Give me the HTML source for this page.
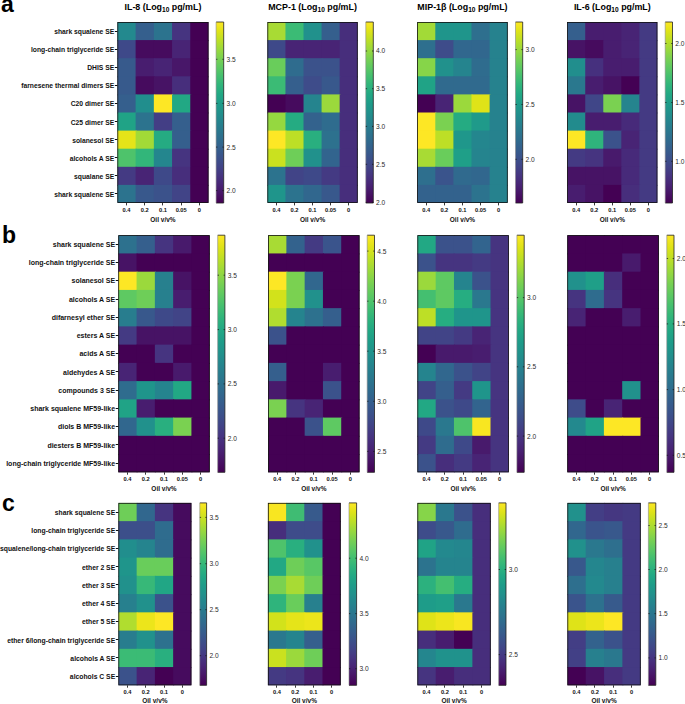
<!DOCTYPE html><html><head><meta charset="utf-8"><style>html,body{margin:0;padding:0;background:#fff;}svg{display:block;}</style></head><body>
<svg width="685" height="704" viewBox="0 0 685 704" font-family='"Liberation Sans", sans-serif'>
<defs><linearGradient id="vg" x1="0" y1="1" x2="0" y2="0">
<stop offset="0" stop-color="#440154"/>
<stop offset="0.05" stop-color="#471365"/>
<stop offset="0.1" stop-color="#482475"/>
<stop offset="0.15" stop-color="#463480"/>
<stop offset="0.2" stop-color="#414487"/>
<stop offset="0.25" stop-color="#3b528b"/>
<stop offset="0.3" stop-color="#355f8d"/>
<stop offset="0.35" stop-color="#2f6c8e"/>
<stop offset="0.4" stop-color="#2a788e"/>
<stop offset="0.45" stop-color="#25848e"/>
<stop offset="0.5" stop-color="#21918c"/>
<stop offset="0.55" stop-color="#1e9c89"/>
<stop offset="0.6" stop-color="#22a884"/>
<stop offset="0.65" stop-color="#2fb47c"/>
<stop offset="0.7" stop-color="#44bf70"/>
<stop offset="0.75" stop-color="#5ec962"/>
<stop offset="0.8" stop-color="#7ad151"/>
<stop offset="0.85" stop-color="#9bd93c"/>
<stop offset="0.9" stop-color="#bddf26"/>
<stop offset="0.95" stop-color="#dfe318"/>
<stop offset="1" stop-color="#fde725"/>
</linearGradient></defs>
<rect x="0" y="0" width="685" height="704" fill="#fff"/>
<text x="1" y="12.3" font-size="23" font-weight="bold" fill="#000">a</text>
<rect x="117.4" y="22" width="19.22" height="19.1" fill="#23898e"/>
<rect x="135.62" y="22" width="19.22" height="19.1" fill="#355f8d"/>
<rect x="153.84" y="22" width="19.22" height="19.1" fill="#2c738e"/>
<rect x="172.06" y="22" width="19.22" height="19.1" fill="#463480"/>
<rect x="190.28" y="22" width="18.22" height="19.1" fill="#440154"/>
<rect x="117.4" y="40.1" width="19.22" height="19.1" fill="#3e4989"/>
<rect x="135.62" y="40.1" width="19.22" height="19.1" fill="#460b5e"/>
<rect x="153.84" y="40.1" width="19.22" height="19.1" fill="#460b5e"/>
<rect x="172.06" y="40.1" width="19.22" height="19.1" fill="#482475"/>
<rect x="190.28" y="40.1" width="18.22" height="19.1" fill="#440154"/>
<rect x="117.4" y="58.2" width="19.22" height="19.1" fill="#375a8c"/>
<rect x="135.62" y="58.2" width="19.22" height="19.1" fill="#481d6f"/>
<rect x="153.84" y="58.2" width="19.22" height="19.1" fill="#482475"/>
<rect x="172.06" y="58.2" width="19.22" height="19.1" fill="#481769"/>
<rect x="190.28" y="58.2" width="18.22" height="19.1" fill="#440154"/>
<rect x="117.4" y="76.3" width="19.22" height="19.1" fill="#375a8c"/>
<rect x="135.62" y="76.3" width="19.22" height="19.1" fill="#460b5e"/>
<rect x="153.84" y="76.3" width="19.22" height="19.1" fill="#471365"/>
<rect x="172.06" y="76.3" width="19.22" height="19.1" fill="#472e7c"/>
<rect x="190.28" y="76.3" width="18.22" height="19.1" fill="#440154"/>
<rect x="117.4" y="94.4" width="19.22" height="19.1" fill="#355f8d"/>
<rect x="135.62" y="94.4" width="19.22" height="19.1" fill="#218e8d"/>
<rect x="153.84" y="94.4" width="19.22" height="19.1" fill="#fde725"/>
<rect x="172.06" y="94.4" width="19.22" height="19.1" fill="#22a884"/>
<rect x="190.28" y="94.4" width="18.22" height="19.1" fill="#440154"/>
<rect x="117.4" y="112.5" width="19.22" height="19.1" fill="#20a386"/>
<rect x="135.62" y="112.5" width="19.22" height="19.1" fill="#2c738e"/>
<rect x="153.84" y="112.5" width="19.22" height="19.1" fill="#433e85"/>
<rect x="172.06" y="112.5" width="19.22" height="19.1" fill="#355f8d"/>
<rect x="190.28" y="112.5" width="18.22" height="19.1" fill="#440154"/>
<rect x="117.4" y="130.6" width="19.22" height="19.1" fill="#e5e419"/>
<rect x="135.62" y="130.6" width="19.22" height="19.1" fill="#a2da37"/>
<rect x="153.84" y="130.6" width="19.22" height="19.1" fill="#25ab82"/>
<rect x="172.06" y="130.6" width="19.22" height="19.1" fill="#355f8d"/>
<rect x="190.28" y="130.6" width="18.22" height="19.1" fill="#440154"/>
<rect x="117.4" y="148.7" width="19.22" height="19.1" fill="#4ec36b"/>
<rect x="135.62" y="148.7" width="19.22" height="19.1" fill="#32b67a"/>
<rect x="153.84" y="148.7" width="19.22" height="19.1" fill="#24868e"/>
<rect x="172.06" y="148.7" width="19.22" height="19.1" fill="#463480"/>
<rect x="190.28" y="148.7" width="18.22" height="19.1" fill="#440154"/>
<rect x="117.4" y="166.8" width="19.22" height="19.1" fill="#443a83"/>
<rect x="135.62" y="166.8" width="19.22" height="19.1" fill="#482475"/>
<rect x="153.84" y="166.8" width="19.22" height="19.1" fill="#3e4989"/>
<rect x="172.06" y="166.8" width="19.22" height="19.1" fill="#472e7c"/>
<rect x="190.28" y="166.8" width="18.22" height="19.1" fill="#440154"/>
<rect x="117.4" y="184.9" width="19.22" height="18.1" fill="#2c738e"/>
<rect x="135.62" y="184.9" width="19.22" height="18.1" fill="#38588c"/>
<rect x="153.84" y="184.9" width="19.22" height="18.1" fill="#3b528b"/>
<rect x="172.06" y="184.9" width="19.22" height="18.1" fill="#414487"/>
<rect x="190.28" y="184.9" width="18.22" height="18.1" fill="#440154"/>
<rect x="117.8" y="22.4" width="90.3" height="180.2" fill="none" stroke="#111" stroke-width="0.8"/>
<line x1="114.8" y1="31.5" x2="117.4" y2="31.5" stroke="#111" stroke-width="1"/>
<text x="114.2" y="34.05" font-size="6.75" font-weight="bold" text-anchor="end" fill="#111">shark squalene SE</text>
<line x1="114.8" y1="49.5" x2="117.4" y2="49.5" stroke="#111" stroke-width="1"/>
<text x="114.2" y="52.15" font-size="6.75" font-weight="bold" text-anchor="end" fill="#111">long-chain triglyceride SE</text>
<line x1="114.8" y1="67.5" x2="117.4" y2="67.5" stroke="#111" stroke-width="1"/>
<text x="114.2" y="70.25" font-size="6.75" font-weight="bold" text-anchor="end" fill="#111">DHIS SE</text>
<line x1="114.8" y1="85.5" x2="117.4" y2="85.5" stroke="#111" stroke-width="1"/>
<text x="114.2" y="88.35" font-size="6.75" font-weight="bold" text-anchor="end" fill="#111">farnesene thermal dimers SE</text>
<line x1="114.8" y1="103.5" x2="117.4" y2="103.5" stroke="#111" stroke-width="1"/>
<text x="114.2" y="106.45" font-size="6.75" font-weight="bold" text-anchor="end" fill="#111">C20 dimer SE</text>
<line x1="114.8" y1="121.5" x2="117.4" y2="121.5" stroke="#111" stroke-width="1"/>
<text x="114.2" y="124.55" font-size="6.75" font-weight="bold" text-anchor="end" fill="#111">C25 dimer SE</text>
<line x1="114.8" y1="139.5" x2="117.4" y2="139.5" stroke="#111" stroke-width="1"/>
<text x="114.2" y="142.65" font-size="6.75" font-weight="bold" text-anchor="end" fill="#111">solanesol SE</text>
<line x1="114.8" y1="157.5" x2="117.4" y2="157.5" stroke="#111" stroke-width="1"/>
<text x="114.2" y="160.75" font-size="6.75" font-weight="bold" text-anchor="end" fill="#111">alcohols A SE</text>
<line x1="114.8" y1="175.5" x2="117.4" y2="175.5" stroke="#111" stroke-width="1"/>
<text x="114.2" y="178.85" font-size="6.75" font-weight="bold" text-anchor="end" fill="#111">squalane SE</text>
<line x1="114.8" y1="193.5" x2="117.4" y2="193.5" stroke="#111" stroke-width="1"/>
<text x="114.2" y="196.95" font-size="6.75" font-weight="bold" text-anchor="end" fill="#111">shark squalene SE</text>
<line x1="126.5" y1="203" x2="126.5" y2="205.4" stroke="#222" stroke-width="0.9"/>
<text x="126.51" y="211.8" font-size="5.7" font-weight="bold" text-anchor="middle" fill="#111">0.4</text>
<line x1="144.5" y1="203" x2="144.5" y2="205.4" stroke="#222" stroke-width="0.9"/>
<text x="144.73" y="211.8" font-size="5.7" font-weight="bold" text-anchor="middle" fill="#111">0.2</text>
<line x1="162.5" y1="203" x2="162.5" y2="205.4" stroke="#222" stroke-width="0.9"/>
<text x="162.95" y="211.8" font-size="5.7" font-weight="bold" text-anchor="middle" fill="#111">0.1</text>
<line x1="181.5" y1="203" x2="181.5" y2="205.4" stroke="#222" stroke-width="0.9"/>
<text x="181.17" y="211.8" font-size="5.7" font-weight="bold" text-anchor="middle" fill="#111">0.05</text>
<line x1="199.5" y1="203" x2="199.5" y2="205.4" stroke="#222" stroke-width="0.9"/>
<text x="199.39" y="211.8" font-size="5.7" font-weight="bold" text-anchor="middle" fill="#111">0</text>
<text x="162.95" y="221.8" font-size="6.5" font-weight="bold" text-anchor="middle" fill="#111">Oil v/v%</text>
<rect x="216.1" y="22" width="7.6" height="181" fill="url(#vg)"/>
<path d="M216.1 22H223.7V203H216.1" fill="none" stroke="#222" stroke-width="0.8"/>
<line x1="216.1" y1="22" x2="216.1" y2="203" stroke="#888" stroke-width="0.6"/>
<line x1="216.1" y1="59.3" x2="217.4" y2="59.3" stroke="#111" stroke-width="0.7"/>
<line x1="222.4" y1="59.3" x2="223.7" y2="59.3" stroke="#111" stroke-width="0.7"/>
<text x="226.5" y="61.7" font-size="6.6" fill="#2a2a2a">3.5</text>
<line x1="216.1" y1="103.4" x2="217.4" y2="103.4" stroke="#111" stroke-width="0.7"/>
<line x1="222.4" y1="103.4" x2="223.7" y2="103.4" stroke="#111" stroke-width="0.7"/>
<text x="226.5" y="105.8" font-size="6.6" fill="#2a2a2a">3.0</text>
<line x1="216.1" y1="147.1" x2="217.4" y2="147.1" stroke="#111" stroke-width="0.7"/>
<line x1="222.4" y1="147.1" x2="223.7" y2="147.1" stroke="#111" stroke-width="0.7"/>
<text x="226.5" y="149.5" font-size="6.6" fill="#2a2a2a">2.5</text>
<line x1="216.1" y1="190.6" x2="217.4" y2="190.6" stroke="#111" stroke-width="0.7"/>
<line x1="222.4" y1="190.6" x2="223.7" y2="190.6" stroke="#111" stroke-width="0.7"/>
<text x="226.5" y="193" font-size="6.6" fill="#2a2a2a">2.0</text>
<text x="162.95" y="9.9" font-size="8.9" font-weight="bold" text-anchor="middle" fill="#000">IL-8 (Log<tspan font-size="6.59" dy="1.9">10</tspan><tspan dy="-1.9"> pg/mL)</tspan></text>
<rect x="267.4" y="22" width="19.06" height="19.1" fill="#a8db34"/>
<rect x="285.46" y="22" width="19.06" height="19.1" fill="#3bbb75"/>
<rect x="303.52" y="22" width="19.06" height="19.1" fill="#21918c"/>
<rect x="321.58" y="22" width="19.06" height="19.1" fill="#355f8d"/>
<rect x="339.64" y="22" width="18.06" height="19.1" fill="#472e7c"/>
<rect x="267.4" y="40.1" width="19.06" height="19.1" fill="#3e4989"/>
<rect x="285.46" y="40.1" width="19.06" height="19.1" fill="#482475"/>
<rect x="303.52" y="40.1" width="19.06" height="19.1" fill="#482475"/>
<rect x="321.58" y="40.1" width="19.06" height="19.1" fill="#482475"/>
<rect x="339.64" y="40.1" width="18.06" height="19.1" fill="#472e7c"/>
<rect x="267.4" y="58.2" width="19.06" height="19.1" fill="#69cd5b"/>
<rect x="285.46" y="58.2" width="19.06" height="19.1" fill="#2f6c8e"/>
<rect x="303.52" y="58.2" width="19.06" height="19.1" fill="#3b528b"/>
<rect x="321.58" y="58.2" width="19.06" height="19.1" fill="#3b528b"/>
<rect x="339.64" y="58.2" width="18.06" height="19.1" fill="#472e7c"/>
<rect x="267.4" y="76.3" width="19.06" height="19.1" fill="#3bbb75"/>
<rect x="285.46" y="76.3" width="19.06" height="19.1" fill="#355f8d"/>
<rect x="303.52" y="76.3" width="19.06" height="19.1" fill="#3e4c8a"/>
<rect x="321.58" y="76.3" width="19.06" height="19.1" fill="#38588c"/>
<rect x="339.64" y="76.3" width="18.06" height="19.1" fill="#472e7c"/>
<rect x="267.4" y="94.4" width="19.06" height="19.1" fill="#440154"/>
<rect x="285.46" y="94.4" width="19.06" height="19.1" fill="#460b5e"/>
<rect x="303.52" y="94.4" width="19.06" height="19.1" fill="#25848e"/>
<rect x="321.58" y="94.4" width="19.06" height="19.1" fill="#9bd93c"/>
<rect x="339.64" y="94.4" width="18.06" height="19.1" fill="#472e7c"/>
<rect x="267.4" y="112.5" width="19.06" height="19.1" fill="#95d840"/>
<rect x="285.46" y="112.5" width="19.06" height="19.1" fill="#25ab82"/>
<rect x="303.52" y="112.5" width="19.06" height="19.1" fill="#33628d"/>
<rect x="321.58" y="112.5" width="19.06" height="19.1" fill="#2f6c8e"/>
<rect x="339.64" y="112.5" width="18.06" height="19.1" fill="#472e7c"/>
<rect x="267.4" y="130.6" width="19.06" height="19.1" fill="#fde725"/>
<rect x="285.46" y="130.6" width="19.06" height="19.1" fill="#bddf26"/>
<rect x="303.52" y="130.6" width="19.06" height="19.1" fill="#29af7f"/>
<rect x="321.58" y="130.6" width="19.06" height="19.1" fill="#2d718e"/>
<rect x="339.64" y="130.6" width="18.06" height="19.1" fill="#472e7c"/>
<rect x="267.4" y="148.7" width="19.06" height="19.1" fill="#cae11f"/>
<rect x="285.46" y="148.7" width="19.06" height="19.1" fill="#6ece58"/>
<rect x="303.52" y="148.7" width="19.06" height="19.1" fill="#21918c"/>
<rect x="321.58" y="148.7" width="19.06" height="19.1" fill="#32648e"/>
<rect x="339.64" y="148.7" width="18.06" height="19.1" fill="#472e7c"/>
<rect x="267.4" y="166.8" width="19.06" height="19.1" fill="#2c738e"/>
<rect x="285.46" y="166.8" width="19.06" height="19.1" fill="#414487"/>
<rect x="303.52" y="166.8" width="19.06" height="19.1" fill="#3e4989"/>
<rect x="321.58" y="166.8" width="19.06" height="19.1" fill="#443a83"/>
<rect x="339.64" y="166.8" width="18.06" height="19.1" fill="#472e7c"/>
<rect x="267.4" y="184.9" width="19.06" height="18.1" fill="#1f958b"/>
<rect x="285.46" y="184.9" width="19.06" height="18.1" fill="#2c738e"/>
<rect x="303.52" y="184.9" width="19.06" height="18.1" fill="#31678e"/>
<rect x="321.58" y="184.9" width="19.06" height="18.1" fill="#38588c"/>
<rect x="339.64" y="184.9" width="18.06" height="18.1" fill="#472e7c"/>
<rect x="267.8" y="22.4" width="89.5" height="180.2" fill="none" stroke="#111" stroke-width="0.8"/>
<line x1="276.5" y1="203" x2="276.5" y2="205.4" stroke="#222" stroke-width="0.9"/>
<text x="276.43" y="211.8" font-size="5.7" font-weight="bold" text-anchor="middle" fill="#111">0.4</text>
<line x1="294.5" y1="203" x2="294.5" y2="205.4" stroke="#222" stroke-width="0.9"/>
<text x="294.49" y="211.8" font-size="5.7" font-weight="bold" text-anchor="middle" fill="#111">0.2</text>
<line x1="312.5" y1="203" x2="312.5" y2="205.4" stroke="#222" stroke-width="0.9"/>
<text x="312.55" y="211.8" font-size="5.7" font-weight="bold" text-anchor="middle" fill="#111">0.1</text>
<line x1="330.5" y1="203" x2="330.5" y2="205.4" stroke="#222" stroke-width="0.9"/>
<text x="330.61" y="211.8" font-size="5.7" font-weight="bold" text-anchor="middle" fill="#111">0.05</text>
<line x1="348.5" y1="203" x2="348.5" y2="205.4" stroke="#222" stroke-width="0.9"/>
<text x="348.67" y="211.8" font-size="5.7" font-weight="bold" text-anchor="middle" fill="#111">0</text>
<text x="312.55" y="221.8" font-size="6.5" font-weight="bold" text-anchor="middle" fill="#111">Oil v/v%</text>
<rect x="365.8" y="22" width="7.5" height="181" fill="url(#vg)"/>
<path d="M365.8 22H373.3V203H365.8" fill="none" stroke="#222" stroke-width="0.8"/>
<line x1="365.8" y1="22" x2="365.8" y2="203" stroke="#888" stroke-width="0.6"/>
<line x1="365.8" y1="51" x2="367.1" y2="51" stroke="#111" stroke-width="0.7"/>
<line x1="372" y1="51" x2="373.3" y2="51" stroke="#111" stroke-width="0.7"/>
<text x="376.1" y="53.4" font-size="6.6" fill="#2a2a2a">4.0</text>
<line x1="365.8" y1="88.7" x2="367.1" y2="88.7" stroke="#111" stroke-width="0.7"/>
<line x1="372" y1="88.7" x2="373.3" y2="88.7" stroke="#111" stroke-width="0.7"/>
<text x="376.1" y="91.1" font-size="6.6" fill="#2a2a2a">3.5</text>
<line x1="365.8" y1="126.4" x2="367.1" y2="126.4" stroke="#111" stroke-width="0.7"/>
<line x1="372" y1="126.4" x2="373.3" y2="126.4" stroke="#111" stroke-width="0.7"/>
<text x="376.1" y="128.8" font-size="6.6" fill="#2a2a2a">3.0</text>
<line x1="365.8" y1="164.3" x2="367.1" y2="164.3" stroke="#111" stroke-width="0.7"/>
<line x1="372" y1="164.3" x2="373.3" y2="164.3" stroke="#111" stroke-width="0.7"/>
<text x="376.1" y="166.7" font-size="6.6" fill="#2a2a2a">2.5</text>
<line x1="365.8" y1="202.3" x2="367.1" y2="202.3" stroke="#111" stroke-width="0.7"/>
<line x1="372" y1="202.3" x2="373.3" y2="202.3" stroke="#111" stroke-width="0.7"/>
<text x="376.1" y="204.7" font-size="6.6" fill="#2a2a2a">2.0</text>
<text x="312.55" y="9.9" font-size="8.9" font-weight="bold" text-anchor="middle" fill="#000">MCP-1 (Log<tspan font-size="6.59" dy="1.9">10</tspan><tspan dy="-1.9"> pg/mL)</tspan></text>
<rect x="417.2" y="22" width="19.1" height="19.1" fill="#a2da37"/>
<rect x="435.3" y="22" width="19.1" height="19.1" fill="#1f958b"/>
<rect x="453.4" y="22" width="19.1" height="19.1" fill="#1f958b"/>
<rect x="471.5" y="22" width="19.1" height="19.1" fill="#2e6f8e"/>
<rect x="489.6" y="22" width="18.1" height="19.1" fill="#26828e"/>
<rect x="417.2" y="40.1" width="19.1" height="19.1" fill="#2e6f8e"/>
<rect x="435.3" y="40.1" width="19.1" height="19.1" fill="#3e4c8a"/>
<rect x="453.4" y="40.1" width="19.1" height="19.1" fill="#31678e"/>
<rect x="471.5" y="40.1" width="19.1" height="19.1" fill="#31678e"/>
<rect x="489.6" y="40.1" width="18.1" height="19.1" fill="#26828e"/>
<rect x="417.2" y="58.2" width="19.1" height="19.1" fill="#86d549"/>
<rect x="435.3" y="58.2" width="19.1" height="19.1" fill="#21918c"/>
<rect x="453.4" y="58.2" width="19.1" height="19.1" fill="#25848e"/>
<rect x="471.5" y="58.2" width="19.1" height="19.1" fill="#2f6c8e"/>
<rect x="489.6" y="58.2" width="18.1" height="19.1" fill="#26828e"/>
<rect x="417.2" y="76.3" width="19.1" height="19.1" fill="#20a386"/>
<rect x="435.3" y="76.3" width="19.1" height="19.1" fill="#306a8e"/>
<rect x="453.4" y="76.3" width="19.1" height="19.1" fill="#306a8e"/>
<rect x="471.5" y="76.3" width="19.1" height="19.1" fill="#306a8e"/>
<rect x="489.6" y="76.3" width="18.1" height="19.1" fill="#26828e"/>
<rect x="417.2" y="94.4" width="19.1" height="19.1" fill="#440154"/>
<rect x="435.3" y="94.4" width="19.1" height="19.1" fill="#482475"/>
<rect x="453.4" y="94.4" width="19.1" height="19.1" fill="#9bd93c"/>
<rect x="471.5" y="94.4" width="19.1" height="19.1" fill="#dfe318"/>
<rect x="489.6" y="94.4" width="18.1" height="19.1" fill="#26828e"/>
<rect x="417.2" y="112.5" width="19.1" height="19.1" fill="#fde725"/>
<rect x="435.3" y="112.5" width="19.1" height="19.1" fill="#7ad151"/>
<rect x="453.4" y="112.5" width="19.1" height="19.1" fill="#25ab82"/>
<rect x="471.5" y="112.5" width="19.1" height="19.1" fill="#1f9a8a"/>
<rect x="489.6" y="112.5" width="18.1" height="19.1" fill="#26828e"/>
<rect x="417.2" y="130.6" width="19.1" height="19.1" fill="#fde725"/>
<rect x="435.3" y="130.6" width="19.1" height="19.1" fill="#bddf26"/>
<rect x="453.4" y="130.6" width="19.1" height="19.1" fill="#1f978b"/>
<rect x="471.5" y="130.6" width="19.1" height="19.1" fill="#24868e"/>
<rect x="489.6" y="130.6" width="18.1" height="19.1" fill="#26828e"/>
<rect x="417.2" y="148.7" width="19.1" height="19.1" fill="#a8db34"/>
<rect x="435.3" y="148.7" width="19.1" height="19.1" fill="#69cd5b"/>
<rect x="453.4" y="148.7" width="19.1" height="19.1" fill="#1f9f88"/>
<rect x="471.5" y="148.7" width="19.1" height="19.1" fill="#25848e"/>
<rect x="489.6" y="148.7" width="18.1" height="19.1" fill="#26828e"/>
<rect x="417.2" y="166.8" width="19.1" height="19.1" fill="#2e6f8e"/>
<rect x="435.3" y="166.8" width="19.1" height="19.1" fill="#3a548c"/>
<rect x="453.4" y="166.8" width="19.1" height="19.1" fill="#306a8e"/>
<rect x="471.5" y="166.8" width="19.1" height="19.1" fill="#31678e"/>
<rect x="489.6" y="166.8" width="18.1" height="19.1" fill="#26828e"/>
<rect x="417.2" y="184.9" width="19.1" height="18.1" fill="#33628d"/>
<rect x="435.3" y="184.9" width="19.1" height="18.1" fill="#33628d"/>
<rect x="453.4" y="184.9" width="19.1" height="18.1" fill="#33628d"/>
<rect x="471.5" y="184.9" width="19.1" height="18.1" fill="#2c738e"/>
<rect x="489.6" y="184.9" width="18.1" height="18.1" fill="#26828e"/>
<rect x="417.6" y="22.4" width="89.7" height="180.2" fill="none" stroke="#111" stroke-width="0.8"/>
<line x1="426.5" y1="203" x2="426.5" y2="205.4" stroke="#222" stroke-width="0.9"/>
<text x="426.25" y="211.8" font-size="5.7" font-weight="bold" text-anchor="middle" fill="#111">0.4</text>
<line x1="444.5" y1="203" x2="444.5" y2="205.4" stroke="#222" stroke-width="0.9"/>
<text x="444.35" y="211.8" font-size="5.7" font-weight="bold" text-anchor="middle" fill="#111">0.2</text>
<line x1="462.5" y1="203" x2="462.5" y2="205.4" stroke="#222" stroke-width="0.9"/>
<text x="462.45" y="211.8" font-size="5.7" font-weight="bold" text-anchor="middle" fill="#111">0.1</text>
<line x1="480.5" y1="203" x2="480.5" y2="205.4" stroke="#222" stroke-width="0.9"/>
<text x="480.55" y="211.8" font-size="5.7" font-weight="bold" text-anchor="middle" fill="#111">0.05</text>
<line x1="498.5" y1="203" x2="498.5" y2="205.4" stroke="#222" stroke-width="0.9"/>
<text x="498.65" y="211.8" font-size="5.7" font-weight="bold" text-anchor="middle" fill="#111">0</text>
<text x="462.45" y="221.8" font-size="6.5" font-weight="bold" text-anchor="middle" fill="#111">Oil v/v%</text>
<rect x="515.5" y="22" width="7.2" height="181" fill="url(#vg)"/>
<path d="M515.5 22H522.7V203H515.5" fill="none" stroke="#222" stroke-width="0.8"/>
<line x1="515.5" y1="22" x2="515.5" y2="203" stroke="#888" stroke-width="0.6"/>
<line x1="515.5" y1="49.6" x2="516.8" y2="49.6" stroke="#111" stroke-width="0.7"/>
<line x1="521.4" y1="49.6" x2="522.7" y2="49.6" stroke="#111" stroke-width="0.7"/>
<text x="525.5" y="52" font-size="6.6" fill="#2a2a2a">3.0</text>
<line x1="515.5" y1="104.5" x2="516.8" y2="104.5" stroke="#111" stroke-width="0.7"/>
<line x1="521.4" y1="104.5" x2="522.7" y2="104.5" stroke="#111" stroke-width="0.7"/>
<text x="525.5" y="106.9" font-size="6.6" fill="#2a2a2a">2.5</text>
<line x1="515.5" y1="159.3" x2="516.8" y2="159.3" stroke="#111" stroke-width="0.7"/>
<line x1="521.4" y1="159.3" x2="522.7" y2="159.3" stroke="#111" stroke-width="0.7"/>
<text x="525.5" y="161.7" font-size="6.6" fill="#2a2a2a">2.0</text>
<text x="462.45" y="9.9" font-size="8.9" font-weight="bold" text-anchor="middle" fill="#000">MIP-1β (Log<tspan font-size="6.59" dy="1.9">10</tspan><tspan dy="-1.9"> pg/mL)</tspan></text>
<rect x="567.2" y="22" width="19.04" height="19.1" fill="#355f8d"/>
<rect x="585.24" y="22" width="19.04" height="19.1" fill="#481d6f"/>
<rect x="603.28" y="22" width="19.04" height="19.1" fill="#481d6f"/>
<rect x="621.32" y="22" width="19.04" height="19.1" fill="#482475"/>
<rect x="639.36" y="22" width="18.04" height="19.1" fill="#443a83"/>
<rect x="567.2" y="40.1" width="19.04" height="19.1" fill="#471365"/>
<rect x="585.24" y="40.1" width="19.04" height="19.1" fill="#460b5e"/>
<rect x="603.28" y="40.1" width="19.04" height="19.1" fill="#481d6f"/>
<rect x="621.32" y="40.1" width="19.04" height="19.1" fill="#482475"/>
<rect x="639.36" y="40.1" width="18.04" height="19.1" fill="#443a83"/>
<rect x="567.2" y="58.2" width="19.04" height="19.1" fill="#218e8d"/>
<rect x="585.24" y="58.2" width="19.04" height="19.1" fill="#46307e"/>
<rect x="603.28" y="58.2" width="19.04" height="19.1" fill="#481d6f"/>
<rect x="621.32" y="58.2" width="19.04" height="19.1" fill="#481d6f"/>
<rect x="639.36" y="58.2" width="18.04" height="19.1" fill="#443a83"/>
<rect x="567.2" y="76.3" width="19.04" height="19.1" fill="#2a788e"/>
<rect x="585.24" y="76.3" width="19.04" height="19.1" fill="#481d6f"/>
<rect x="603.28" y="76.3" width="19.04" height="19.1" fill="#471365"/>
<rect x="621.32" y="76.3" width="19.04" height="19.1" fill="#440154"/>
<rect x="639.36" y="76.3" width="18.04" height="19.1" fill="#443a83"/>
<rect x="567.2" y="94.4" width="19.04" height="19.1" fill="#471365"/>
<rect x="585.24" y="94.4" width="19.04" height="19.1" fill="#404688"/>
<rect x="603.28" y="94.4" width="19.04" height="19.1" fill="#7ad151"/>
<rect x="621.32" y="94.4" width="19.04" height="19.1" fill="#25848e"/>
<rect x="639.36" y="94.4" width="18.04" height="19.1" fill="#443a83"/>
<rect x="567.2" y="112.5" width="19.04" height="19.1" fill="#228b8d"/>
<rect x="585.24" y="112.5" width="19.04" height="19.1" fill="#481d6f"/>
<rect x="603.28" y="112.5" width="19.04" height="19.1" fill="#481d6f"/>
<rect x="621.32" y="112.5" width="19.04" height="19.1" fill="#472a7a"/>
<rect x="639.36" y="112.5" width="18.04" height="19.1" fill="#443a83"/>
<rect x="567.2" y="130.6" width="19.04" height="19.1" fill="#fde725"/>
<rect x="585.24" y="130.6" width="19.04" height="19.1" fill="#2fb47c"/>
<rect x="603.28" y="130.6" width="19.04" height="19.1" fill="#3b528b"/>
<rect x="621.32" y="130.6" width="19.04" height="19.1" fill="#482475"/>
<rect x="639.36" y="130.6" width="18.04" height="19.1" fill="#443a83"/>
<rect x="567.2" y="148.7" width="19.04" height="19.1" fill="#443a83"/>
<rect x="585.24" y="148.7" width="19.04" height="19.1" fill="#463480"/>
<rect x="603.28" y="148.7" width="19.04" height="19.1" fill="#481a6c"/>
<rect x="621.32" y="148.7" width="19.04" height="19.1" fill="#472a7a"/>
<rect x="639.36" y="148.7" width="18.04" height="19.1" fill="#443a83"/>
<rect x="567.2" y="166.8" width="19.04" height="19.1" fill="#471365"/>
<rect x="585.24" y="166.8" width="19.04" height="19.1" fill="#471365"/>
<rect x="603.28" y="166.8" width="19.04" height="19.1" fill="#471365"/>
<rect x="621.32" y="166.8" width="19.04" height="19.1" fill="#472a7a"/>
<rect x="639.36" y="166.8" width="18.04" height="19.1" fill="#443a83"/>
<rect x="567.2" y="184.9" width="19.04" height="18.1" fill="#481d6f"/>
<rect x="585.24" y="184.9" width="19.04" height="18.1" fill="#471365"/>
<rect x="603.28" y="184.9" width="19.04" height="18.1" fill="#440154"/>
<rect x="621.32" y="184.9" width="19.04" height="18.1" fill="#472e7c"/>
<rect x="639.36" y="184.9" width="18.04" height="18.1" fill="#443a83"/>
<rect x="567.6" y="22.4" width="89.4" height="180.2" fill="none" stroke="#111" stroke-width="0.8"/>
<line x1="576.5" y1="203" x2="576.5" y2="205.4" stroke="#222" stroke-width="0.9"/>
<text x="576.22" y="211.8" font-size="5.7" font-weight="bold" text-anchor="middle" fill="#111">0.4</text>
<line x1="594.5" y1="203" x2="594.5" y2="205.4" stroke="#222" stroke-width="0.9"/>
<text x="594.26" y="211.8" font-size="5.7" font-weight="bold" text-anchor="middle" fill="#111">0.2</text>
<line x1="612.5" y1="203" x2="612.5" y2="205.4" stroke="#222" stroke-width="0.9"/>
<text x="612.3" y="211.8" font-size="5.7" font-weight="bold" text-anchor="middle" fill="#111">0.1</text>
<line x1="630.5" y1="203" x2="630.5" y2="205.4" stroke="#222" stroke-width="0.9"/>
<text x="630.34" y="211.8" font-size="5.7" font-weight="bold" text-anchor="middle" fill="#111">0.05</text>
<line x1="648.5" y1="203" x2="648.5" y2="205.4" stroke="#222" stroke-width="0.9"/>
<text x="648.38" y="211.8" font-size="5.7" font-weight="bold" text-anchor="middle" fill="#111">0</text>
<text x="612.3" y="221.8" font-size="6.5" font-weight="bold" text-anchor="middle" fill="#111">Oil v/v%</text>
<rect x="665.2" y="22" width="7.3" height="181" fill="url(#vg)"/>
<path d="M665.2 22H672.5V203H665.2" fill="none" stroke="#222" stroke-width="0.8"/>
<line x1="665.2" y1="22" x2="665.2" y2="203" stroke="#888" stroke-width="0.6"/>
<line x1="665.2" y1="43.5" x2="666.5" y2="43.5" stroke="#111" stroke-width="0.7"/>
<line x1="671.2" y1="43.5" x2="672.5" y2="43.5" stroke="#111" stroke-width="0.7"/>
<text x="675.3" y="45.9" font-size="6.6" fill="#2a2a2a">2.0</text>
<line x1="665.2" y1="102.5" x2="666.5" y2="102.5" stroke="#111" stroke-width="0.7"/>
<line x1="671.2" y1="102.5" x2="672.5" y2="102.5" stroke="#111" stroke-width="0.7"/>
<text x="675.3" y="104.9" font-size="6.6" fill="#2a2a2a">1.5</text>
<line x1="665.2" y1="161.3" x2="666.5" y2="161.3" stroke="#111" stroke-width="0.7"/>
<line x1="671.2" y1="161.3" x2="672.5" y2="161.3" stroke="#111" stroke-width="0.7"/>
<text x="675.3" y="163.7" font-size="6.6" fill="#2a2a2a">1.0</text>
<text x="612.3" y="9.9" font-size="8.9" font-weight="bold" text-anchor="middle" fill="#000">IL-6 (Log<tspan font-size="6.59" dy="1.9">10</tspan><tspan dy="-1.9"> pg/mL)</tspan></text>
<text x="2" y="242.5" font-size="23" font-weight="bold" fill="#000">b</text>
<rect x="118.3" y="235.2" width="19.28" height="19.24" fill="#2d718e"/>
<rect x="136.58" y="235.2" width="19.28" height="19.24" fill="#355f8d"/>
<rect x="154.86" y="235.2" width="19.28" height="19.24" fill="#463480"/>
<rect x="173.14" y="235.2" width="19.28" height="19.24" fill="#481a6c"/>
<rect x="191.42" y="235.2" width="18.28" height="19.24" fill="#440154"/>
<rect x="118.3" y="253.44" width="19.28" height="19.24" fill="#471365"/>
<rect x="136.58" y="253.44" width="19.28" height="19.24" fill="#440154"/>
<rect x="154.86" y="253.44" width="19.28" height="19.24" fill="#440154"/>
<rect x="173.14" y="253.44" width="19.28" height="19.24" fill="#440154"/>
<rect x="191.42" y="253.44" width="18.28" height="19.24" fill="#440154"/>
<rect x="118.3" y="271.68" width="19.28" height="19.24" fill="#fde725"/>
<rect x="136.58" y="271.68" width="19.28" height="19.24" fill="#9bd93c"/>
<rect x="154.86" y="271.68" width="19.28" height="19.24" fill="#27808e"/>
<rect x="173.14" y="271.68" width="19.28" height="19.24" fill="#471365"/>
<rect x="191.42" y="271.68" width="18.28" height="19.24" fill="#440154"/>
<rect x="118.3" y="289.92" width="19.28" height="19.24" fill="#5ec962"/>
<rect x="136.58" y="289.92" width="19.28" height="19.24" fill="#6ece58"/>
<rect x="154.86" y="289.92" width="19.28" height="19.24" fill="#27808e"/>
<rect x="173.14" y="289.92" width="19.28" height="19.24" fill="#481d6f"/>
<rect x="191.42" y="289.92" width="18.28" height="19.24" fill="#440154"/>
<rect x="118.3" y="308.15" width="19.28" height="19.24" fill="#287d8e"/>
<rect x="136.58" y="308.15" width="19.28" height="19.24" fill="#38588c"/>
<rect x="154.86" y="308.15" width="19.28" height="19.24" fill="#3e4989"/>
<rect x="173.14" y="308.15" width="19.28" height="19.24" fill="#414487"/>
<rect x="191.42" y="308.15" width="18.28" height="19.24" fill="#440154"/>
<rect x="118.3" y="326.39" width="19.28" height="19.24" fill="#443a83"/>
<rect x="136.58" y="326.39" width="19.28" height="19.24" fill="#471365"/>
<rect x="154.86" y="326.39" width="19.28" height="19.24" fill="#471365"/>
<rect x="173.14" y="326.39" width="19.28" height="19.24" fill="#471365"/>
<rect x="191.42" y="326.39" width="18.28" height="19.24" fill="#440154"/>
<rect x="118.3" y="344.63" width="19.28" height="19.24" fill="#440154"/>
<rect x="136.58" y="344.63" width="19.28" height="19.24" fill="#440154"/>
<rect x="154.86" y="344.63" width="19.28" height="19.24" fill="#463480"/>
<rect x="173.14" y="344.63" width="19.28" height="19.24" fill="#440154"/>
<rect x="191.42" y="344.63" width="18.28" height="19.24" fill="#440154"/>
<rect x="118.3" y="362.87" width="19.28" height="19.24" fill="#482475"/>
<rect x="136.58" y="362.87" width="19.28" height="19.24" fill="#440154"/>
<rect x="154.86" y="362.87" width="19.28" height="19.24" fill="#440154"/>
<rect x="173.14" y="362.87" width="19.28" height="19.24" fill="#481a6c"/>
<rect x="191.42" y="362.87" width="18.28" height="19.24" fill="#440154"/>
<rect x="118.3" y="381.11" width="19.28" height="19.24" fill="#2f6c8e"/>
<rect x="136.58" y="381.11" width="19.28" height="19.24" fill="#1f958b"/>
<rect x="154.86" y="381.11" width="19.28" height="19.24" fill="#25848e"/>
<rect x="173.14" y="381.11" width="19.28" height="19.24" fill="#22a884"/>
<rect x="191.42" y="381.11" width="18.28" height="19.24" fill="#440154"/>
<rect x="118.3" y="399.35" width="19.28" height="19.24" fill="#20a386"/>
<rect x="136.58" y="399.35" width="19.28" height="19.24" fill="#481d6f"/>
<rect x="154.86" y="399.35" width="19.28" height="19.24" fill="#440154"/>
<rect x="173.14" y="399.35" width="19.28" height="19.24" fill="#440154"/>
<rect x="191.42" y="399.35" width="18.28" height="19.24" fill="#440154"/>
<rect x="118.3" y="417.58" width="19.28" height="19.24" fill="#31678e"/>
<rect x="136.58" y="417.58" width="19.28" height="19.24" fill="#21918c"/>
<rect x="154.86" y="417.58" width="19.28" height="19.24" fill="#29af7f"/>
<rect x="173.14" y="417.58" width="19.28" height="19.24" fill="#7ad151"/>
<rect x="191.42" y="417.58" width="18.28" height="19.24" fill="#440154"/>
<rect x="118.3" y="435.82" width="19.28" height="19.24" fill="#440154"/>
<rect x="136.58" y="435.82" width="19.28" height="19.24" fill="#440154"/>
<rect x="154.86" y="435.82" width="19.28" height="19.24" fill="#440154"/>
<rect x="173.14" y="435.82" width="19.28" height="19.24" fill="#440154"/>
<rect x="191.42" y="435.82" width="18.28" height="19.24" fill="#440154"/>
<rect x="118.3" y="454.06" width="19.28" height="18.24" fill="#440154"/>
<rect x="136.58" y="454.06" width="19.28" height="18.24" fill="#440154"/>
<rect x="154.86" y="454.06" width="19.28" height="18.24" fill="#440154"/>
<rect x="173.14" y="454.06" width="19.28" height="18.24" fill="#440154"/>
<rect x="191.42" y="454.06" width="18.28" height="18.24" fill="#440154"/>
<rect x="118.7" y="235.6" width="90.6" height="236.3" fill="none" stroke="#111" stroke-width="0.8"/>
<line x1="115.7" y1="244.5" x2="118.3" y2="244.5" stroke="#111" stroke-width="1"/>
<text x="115.1" y="246.92" font-size="7.0" font-weight="bold" text-anchor="end" fill="#111">shark squalene SE</text>
<line x1="115.7" y1="262.5" x2="118.3" y2="262.5" stroke="#111" stroke-width="1"/>
<text x="115.1" y="265.16" font-size="7.0" font-weight="bold" text-anchor="end" fill="#111">long-chain triglyceride SE</text>
<line x1="115.7" y1="280.5" x2="118.3" y2="280.5" stroke="#111" stroke-width="1"/>
<text x="115.1" y="283.4" font-size="7.0" font-weight="bold" text-anchor="end" fill="#111">solanesol SE</text>
<line x1="115.7" y1="299.5" x2="118.3" y2="299.5" stroke="#111" stroke-width="1"/>
<text x="115.1" y="301.63" font-size="7.0" font-weight="bold" text-anchor="end" fill="#111">alcohols A SE</text>
<line x1="115.7" y1="317.5" x2="118.3" y2="317.5" stroke="#111" stroke-width="1"/>
<text x="115.1" y="319.87" font-size="7.0" font-weight="bold" text-anchor="end" fill="#111">difarnesyl ether SE</text>
<line x1="115.7" y1="335.5" x2="118.3" y2="335.5" stroke="#111" stroke-width="1"/>
<text x="115.1" y="338.11" font-size="7.0" font-weight="bold" text-anchor="end" fill="#111">esters A SE</text>
<line x1="115.7" y1="353.5" x2="118.3" y2="353.5" stroke="#111" stroke-width="1"/>
<text x="115.1" y="356.35" font-size="7.0" font-weight="bold" text-anchor="end" fill="#111">acids A SE</text>
<line x1="115.7" y1="371.5" x2="118.3" y2="371.5" stroke="#111" stroke-width="1"/>
<text x="115.1" y="374.59" font-size="7.0" font-weight="bold" text-anchor="end" fill="#111">aldehydes A SE</text>
<line x1="115.7" y1="390.5" x2="118.3" y2="390.5" stroke="#111" stroke-width="1"/>
<text x="115.1" y="392.83" font-size="7.0" font-weight="bold" text-anchor="end" fill="#111">compounds 3 SE</text>
<line x1="115.7" y1="408.5" x2="118.3" y2="408.5" stroke="#111" stroke-width="1"/>
<text x="115.1" y="411.07" font-size="7.0" font-weight="bold" text-anchor="end" fill="#111">shark squalene MF59-like</text>
<line x1="115.7" y1="426.5" x2="118.3" y2="426.5" stroke="#111" stroke-width="1"/>
<text x="115.1" y="429.3" font-size="7.0" font-weight="bold" text-anchor="end" fill="#111">diols B MF59-like</text>
<line x1="115.7" y1="444.5" x2="118.3" y2="444.5" stroke="#111" stroke-width="1"/>
<text x="115.1" y="447.54" font-size="7.0" font-weight="bold" text-anchor="end" fill="#111">diesters B MF59-like</text>
<line x1="115.7" y1="463.5" x2="118.3" y2="463.5" stroke="#111" stroke-width="1"/>
<text x="115.1" y="465.78" font-size="7.0" font-weight="bold" text-anchor="end" fill="#111">long-chain triglyceride MF59-like</text>
<line x1="127.5" y1="472.3" x2="127.5" y2="474.7" stroke="#222" stroke-width="0.9"/>
<text x="127.44" y="481.1" font-size="5.7" font-weight="bold" text-anchor="middle" fill="#111">0.4</text>
<line x1="145.5" y1="472.3" x2="145.5" y2="474.7" stroke="#222" stroke-width="0.9"/>
<text x="145.72" y="481.1" font-size="5.7" font-weight="bold" text-anchor="middle" fill="#111">0.2</text>
<line x1="164.5" y1="472.3" x2="164.5" y2="474.7" stroke="#222" stroke-width="0.9"/>
<text x="164" y="481.1" font-size="5.7" font-weight="bold" text-anchor="middle" fill="#111">0.1</text>
<line x1="182.5" y1="472.3" x2="182.5" y2="474.7" stroke="#222" stroke-width="0.9"/>
<text x="182.28" y="481.1" font-size="5.7" font-weight="bold" text-anchor="middle" fill="#111">0.05</text>
<line x1="200.5" y1="472.3" x2="200.5" y2="474.7" stroke="#222" stroke-width="0.9"/>
<text x="200.56" y="481.1" font-size="5.7" font-weight="bold" text-anchor="middle" fill="#111">0</text>
<text x="164" y="491.1" font-size="6.5" font-weight="bold" text-anchor="middle" fill="#111">Oil v/v%</text>
<rect x="217.7" y="235.2" width="7.2" height="237.1" fill="url(#vg)"/>
<path d="M217.7 235.2H224.9V472.3H217.7" fill="none" stroke="#222" stroke-width="0.8"/>
<line x1="217.7" y1="235.2" x2="217.7" y2="472.3" stroke="#888" stroke-width="0.6"/>
<line x1="217.7" y1="275.2" x2="219" y2="275.2" stroke="#111" stroke-width="0.7"/>
<line x1="223.6" y1="275.2" x2="224.9" y2="275.2" stroke="#111" stroke-width="0.7"/>
<text x="227.7" y="277.6" font-size="6.6" fill="#2a2a2a">3.5</text>
<line x1="217.7" y1="329.6" x2="219" y2="329.6" stroke="#111" stroke-width="0.7"/>
<line x1="223.6" y1="329.6" x2="224.9" y2="329.6" stroke="#111" stroke-width="0.7"/>
<text x="227.7" y="332" font-size="6.6" fill="#2a2a2a">3.0</text>
<line x1="217.7" y1="383.9" x2="219" y2="383.9" stroke="#111" stroke-width="0.7"/>
<line x1="223.6" y1="383.9" x2="224.9" y2="383.9" stroke="#111" stroke-width="0.7"/>
<text x="227.7" y="386.3" font-size="6.6" fill="#2a2a2a">2.5</text>
<line x1="217.7" y1="438.2" x2="219" y2="438.2" stroke="#111" stroke-width="0.7"/>
<line x1="223.6" y1="438.2" x2="224.9" y2="438.2" stroke="#111" stroke-width="0.7"/>
<text x="227.7" y="440.6" font-size="6.6" fill="#2a2a2a">2.0</text>
<rect x="268.1" y="235.2" width="19.28" height="19.24" fill="#a8db34"/>
<rect x="286.38" y="235.2" width="19.28" height="19.24" fill="#33628d"/>
<rect x="304.66" y="235.2" width="19.28" height="19.24" fill="#443a83"/>
<rect x="322.94" y="235.2" width="19.28" height="19.24" fill="#3a548c"/>
<rect x="341.22" y="235.2" width="18.28" height="19.24" fill="#440154"/>
<rect x="268.1" y="253.44" width="19.28" height="19.24" fill="#440154"/>
<rect x="286.38" y="253.44" width="19.28" height="19.24" fill="#440154"/>
<rect x="304.66" y="253.44" width="19.28" height="19.24" fill="#440154"/>
<rect x="322.94" y="253.44" width="19.28" height="19.24" fill="#440154"/>
<rect x="341.22" y="253.44" width="18.28" height="19.24" fill="#440154"/>
<rect x="268.1" y="271.68" width="19.28" height="19.24" fill="#fde725"/>
<rect x="286.38" y="271.68" width="19.28" height="19.24" fill="#7ad151"/>
<rect x="304.66" y="271.68" width="19.28" height="19.24" fill="#31678e"/>
<rect x="322.94" y="271.68" width="19.28" height="19.24" fill="#440154"/>
<rect x="341.22" y="271.68" width="18.28" height="19.24" fill="#440154"/>
<rect x="268.1" y="289.92" width="19.28" height="19.24" fill="#d2e21b"/>
<rect x="286.38" y="289.92" width="19.28" height="19.24" fill="#7ad151"/>
<rect x="304.66" y="289.92" width="19.28" height="19.24" fill="#21918c"/>
<rect x="322.94" y="289.92" width="19.28" height="19.24" fill="#440154"/>
<rect x="341.22" y="289.92" width="18.28" height="19.24" fill="#440154"/>
<rect x="268.1" y="308.15" width="19.28" height="19.24" fill="#b0dd2f"/>
<rect x="286.38" y="308.15" width="19.28" height="19.24" fill="#25848e"/>
<rect x="304.66" y="308.15" width="19.28" height="19.24" fill="#2d718e"/>
<rect x="322.94" y="308.15" width="19.28" height="19.24" fill="#355f8d"/>
<rect x="341.22" y="308.15" width="18.28" height="19.24" fill="#440154"/>
<rect x="268.1" y="326.39" width="19.28" height="19.24" fill="#3b528b"/>
<rect x="286.38" y="326.39" width="19.28" height="19.24" fill="#440154"/>
<rect x="304.66" y="326.39" width="19.28" height="19.24" fill="#440154"/>
<rect x="322.94" y="326.39" width="19.28" height="19.24" fill="#440154"/>
<rect x="341.22" y="326.39" width="18.28" height="19.24" fill="#440154"/>
<rect x="268.1" y="344.63" width="19.28" height="19.24" fill="#440154"/>
<rect x="286.38" y="344.63" width="19.28" height="19.24" fill="#440154"/>
<rect x="304.66" y="344.63" width="19.28" height="19.24" fill="#440154"/>
<rect x="322.94" y="344.63" width="19.28" height="19.24" fill="#440154"/>
<rect x="341.22" y="344.63" width="18.28" height="19.24" fill="#440154"/>
<rect x="268.1" y="362.87" width="19.28" height="19.24" fill="#355f8d"/>
<rect x="286.38" y="362.87" width="19.28" height="19.24" fill="#440154"/>
<rect x="304.66" y="362.87" width="19.28" height="19.24" fill="#440154"/>
<rect x="322.94" y="362.87" width="19.28" height="19.24" fill="#481d6f"/>
<rect x="341.22" y="362.87" width="18.28" height="19.24" fill="#440154"/>
<rect x="268.1" y="381.11" width="19.28" height="19.24" fill="#481a6c"/>
<rect x="286.38" y="381.11" width="19.28" height="19.24" fill="#440154"/>
<rect x="304.66" y="381.11" width="19.28" height="19.24" fill="#440154"/>
<rect x="322.94" y="381.11" width="19.28" height="19.24" fill="#3b528b"/>
<rect x="341.22" y="381.11" width="18.28" height="19.24" fill="#440154"/>
<rect x="268.1" y="399.35" width="19.28" height="19.24" fill="#7ad151"/>
<rect x="286.38" y="399.35" width="19.28" height="19.24" fill="#463480"/>
<rect x="304.66" y="399.35" width="19.28" height="19.24" fill="#482475"/>
<rect x="322.94" y="399.35" width="19.28" height="19.24" fill="#440154"/>
<rect x="341.22" y="399.35" width="18.28" height="19.24" fill="#440154"/>
<rect x="268.1" y="417.58" width="19.28" height="19.24" fill="#440154"/>
<rect x="286.38" y="417.58" width="19.28" height="19.24" fill="#440154"/>
<rect x="304.66" y="417.58" width="19.28" height="19.24" fill="#3b528b"/>
<rect x="322.94" y="417.58" width="19.28" height="19.24" fill="#5ec962"/>
<rect x="341.22" y="417.58" width="18.28" height="19.24" fill="#440154"/>
<rect x="268.1" y="435.82" width="19.28" height="19.24" fill="#440154"/>
<rect x="286.38" y="435.82" width="19.28" height="19.24" fill="#440154"/>
<rect x="304.66" y="435.82" width="19.28" height="19.24" fill="#440154"/>
<rect x="322.94" y="435.82" width="19.28" height="19.24" fill="#440154"/>
<rect x="341.22" y="435.82" width="18.28" height="19.24" fill="#440154"/>
<rect x="268.1" y="454.06" width="19.28" height="18.24" fill="#440154"/>
<rect x="286.38" y="454.06" width="19.28" height="18.24" fill="#440154"/>
<rect x="304.66" y="454.06" width="19.28" height="18.24" fill="#440154"/>
<rect x="322.94" y="454.06" width="19.28" height="18.24" fill="#440154"/>
<rect x="341.22" y="454.06" width="18.28" height="18.24" fill="#440154"/>
<rect x="268.5" y="235.6" width="90.6" height="236.3" fill="none" stroke="#111" stroke-width="0.8"/>
<line x1="277.5" y1="472.3" x2="277.5" y2="474.7" stroke="#222" stroke-width="0.9"/>
<text x="277.24" y="481.1" font-size="5.7" font-weight="bold" text-anchor="middle" fill="#111">0.4</text>
<line x1="295.5" y1="472.3" x2="295.5" y2="474.7" stroke="#222" stroke-width="0.9"/>
<text x="295.52" y="481.1" font-size="5.7" font-weight="bold" text-anchor="middle" fill="#111">0.2</text>
<line x1="313.5" y1="472.3" x2="313.5" y2="474.7" stroke="#222" stroke-width="0.9"/>
<text x="313.8" y="481.1" font-size="5.7" font-weight="bold" text-anchor="middle" fill="#111">0.1</text>
<line x1="332.5" y1="472.3" x2="332.5" y2="474.7" stroke="#222" stroke-width="0.9"/>
<text x="332.08" y="481.1" font-size="5.7" font-weight="bold" text-anchor="middle" fill="#111">0.05</text>
<line x1="350.5" y1="472.3" x2="350.5" y2="474.7" stroke="#222" stroke-width="0.9"/>
<text x="350.36" y="481.1" font-size="5.7" font-weight="bold" text-anchor="middle" fill="#111">0</text>
<text x="313.8" y="491.1" font-size="6.5" font-weight="bold" text-anchor="middle" fill="#111">Oil v/v%</text>
<rect x="367.2" y="235.2" width="7.3" height="237.1" fill="url(#vg)"/>
<path d="M367.2 235.2H374.5V472.3H367.2" fill="none" stroke="#222" stroke-width="0.8"/>
<line x1="367.2" y1="235.2" x2="367.2" y2="472.3" stroke="#888" stroke-width="0.6"/>
<line x1="367.2" y1="251.1" x2="368.5" y2="251.1" stroke="#111" stroke-width="0.7"/>
<line x1="373.2" y1="251.1" x2="374.5" y2="251.1" stroke="#111" stroke-width="0.7"/>
<text x="377.3" y="253.5" font-size="6.6" fill="#2a2a2a">4.5</text>
<line x1="367.2" y1="301.2" x2="368.5" y2="301.2" stroke="#111" stroke-width="0.7"/>
<line x1="373.2" y1="301.2" x2="374.5" y2="301.2" stroke="#111" stroke-width="0.7"/>
<text x="377.3" y="303.6" font-size="6.6" fill="#2a2a2a">4.0</text>
<line x1="367.2" y1="351.2" x2="368.5" y2="351.2" stroke="#111" stroke-width="0.7"/>
<line x1="373.2" y1="351.2" x2="374.5" y2="351.2" stroke="#111" stroke-width="0.7"/>
<text x="377.3" y="353.6" font-size="6.6" fill="#2a2a2a">3.5</text>
<line x1="367.2" y1="401.3" x2="368.5" y2="401.3" stroke="#111" stroke-width="0.7"/>
<line x1="373.2" y1="401.3" x2="374.5" y2="401.3" stroke="#111" stroke-width="0.7"/>
<text x="377.3" y="403.7" font-size="6.6" fill="#2a2a2a">3.0</text>
<line x1="367.2" y1="451.4" x2="368.5" y2="451.4" stroke="#111" stroke-width="0.7"/>
<line x1="373.2" y1="451.4" x2="374.5" y2="451.4" stroke="#111" stroke-width="0.7"/>
<text x="377.3" y="453.8" font-size="6.6" fill="#2a2a2a">2.5</text>
<rect x="417.4" y="235.2" width="19.28" height="19.24" fill="#22a884"/>
<rect x="435.68" y="235.2" width="19.28" height="19.24" fill="#3b528b"/>
<rect x="453.96" y="235.2" width="19.28" height="19.24" fill="#3b528b"/>
<rect x="472.24" y="235.2" width="19.28" height="19.24" fill="#32648e"/>
<rect x="490.52" y="235.2" width="18.28" height="19.24" fill="#463480"/>
<rect x="417.4" y="253.44" width="19.28" height="19.24" fill="#3b528b"/>
<rect x="435.68" y="253.44" width="19.28" height="19.24" fill="#463480"/>
<rect x="453.96" y="253.44" width="19.28" height="19.24" fill="#463480"/>
<rect x="472.24" y="253.44" width="19.28" height="19.24" fill="#443a83"/>
<rect x="490.52" y="253.44" width="18.28" height="19.24" fill="#463480"/>
<rect x="417.4" y="271.68" width="19.28" height="19.24" fill="#9bd93c"/>
<rect x="435.68" y="271.68" width="19.28" height="19.24" fill="#5ec962"/>
<rect x="453.96" y="271.68" width="19.28" height="19.24" fill="#25848e"/>
<rect x="472.24" y="271.68" width="19.28" height="19.24" fill="#3b528b"/>
<rect x="490.52" y="271.68" width="18.28" height="19.24" fill="#463480"/>
<rect x="417.4" y="289.92" width="19.28" height="19.24" fill="#44bf70"/>
<rect x="435.68" y="289.92" width="19.28" height="19.24" fill="#5ec962"/>
<rect x="453.96" y="289.92" width="19.28" height="19.24" fill="#26ad81"/>
<rect x="472.24" y="289.92" width="19.28" height="19.24" fill="#2a788e"/>
<rect x="490.52" y="289.92" width="18.28" height="19.24" fill="#463480"/>
<rect x="417.4" y="308.15" width="19.28" height="19.24" fill="#bddf26"/>
<rect x="435.68" y="308.15" width="19.28" height="19.24" fill="#26ad81"/>
<rect x="453.96" y="308.15" width="19.28" height="19.24" fill="#1f958b"/>
<rect x="472.24" y="308.15" width="19.28" height="19.24" fill="#1f958b"/>
<rect x="490.52" y="308.15" width="18.28" height="19.24" fill="#463480"/>
<rect x="417.4" y="326.39" width="19.28" height="19.24" fill="#414487"/>
<rect x="435.68" y="326.39" width="19.28" height="19.24" fill="#414487"/>
<rect x="453.96" y="326.39" width="19.28" height="19.24" fill="#443a83"/>
<rect x="472.24" y="326.39" width="19.28" height="19.24" fill="#482475"/>
<rect x="490.52" y="326.39" width="18.28" height="19.24" fill="#463480"/>
<rect x="417.4" y="344.63" width="19.28" height="19.24" fill="#440154"/>
<rect x="435.68" y="344.63" width="19.28" height="19.24" fill="#481a6c"/>
<rect x="453.96" y="344.63" width="19.28" height="19.24" fill="#481a6c"/>
<rect x="472.24" y="344.63" width="19.28" height="19.24" fill="#481d6f"/>
<rect x="490.52" y="344.63" width="18.28" height="19.24" fill="#463480"/>
<rect x="417.4" y="362.87" width="19.28" height="19.24" fill="#25848e"/>
<rect x="435.68" y="362.87" width="19.28" height="19.24" fill="#31678e"/>
<rect x="453.96" y="362.87" width="19.28" height="19.24" fill="#3b528b"/>
<rect x="472.24" y="362.87" width="19.28" height="19.24" fill="#414487"/>
<rect x="490.52" y="362.87" width="18.28" height="19.24" fill="#463480"/>
<rect x="417.4" y="381.11" width="19.28" height="19.24" fill="#414487"/>
<rect x="435.68" y="381.11" width="19.28" height="19.24" fill="#355f8d"/>
<rect x="453.96" y="381.11" width="19.28" height="19.24" fill="#443a83"/>
<rect x="472.24" y="381.11" width="19.28" height="19.24" fill="#1f958b"/>
<rect x="490.52" y="381.11" width="18.28" height="19.24" fill="#463480"/>
<rect x="417.4" y="399.35" width="19.28" height="19.24" fill="#22a884"/>
<rect x="435.68" y="399.35" width="19.28" height="19.24" fill="#3b528b"/>
<rect x="453.96" y="399.35" width="19.28" height="19.24" fill="#3e4989"/>
<rect x="472.24" y="399.35" width="19.28" height="19.24" fill="#32648e"/>
<rect x="490.52" y="399.35" width="18.28" height="19.24" fill="#463480"/>
<rect x="417.4" y="417.58" width="19.28" height="19.24" fill="#3e4989"/>
<rect x="435.68" y="417.58" width="19.28" height="19.24" fill="#2a788e"/>
<rect x="453.96" y="417.58" width="19.28" height="19.24" fill="#4ec36b"/>
<rect x="472.24" y="417.58" width="19.28" height="19.24" fill="#f8e621"/>
<rect x="490.52" y="417.58" width="18.28" height="19.24" fill="#463480"/>
<rect x="417.4" y="435.82" width="19.28" height="19.24" fill="#443a83"/>
<rect x="435.68" y="435.82" width="19.28" height="19.24" fill="#2f6c8e"/>
<rect x="453.96" y="435.82" width="19.28" height="19.24" fill="#3e4989"/>
<rect x="472.24" y="435.82" width="19.28" height="19.24" fill="#481a6c"/>
<rect x="490.52" y="435.82" width="18.28" height="19.24" fill="#463480"/>
<rect x="417.4" y="454.06" width="19.28" height="18.24" fill="#3b528b"/>
<rect x="435.68" y="454.06" width="19.28" height="18.24" fill="#472e7c"/>
<rect x="453.96" y="454.06" width="19.28" height="18.24" fill="#443a83"/>
<rect x="472.24" y="454.06" width="19.28" height="18.24" fill="#482475"/>
<rect x="490.52" y="454.06" width="18.28" height="18.24" fill="#463480"/>
<rect x="417.8" y="235.6" width="90.6" height="236.3" fill="none" stroke="#111" stroke-width="0.8"/>
<line x1="426.5" y1="472.3" x2="426.5" y2="474.7" stroke="#222" stroke-width="0.9"/>
<text x="426.54" y="481.1" font-size="5.7" font-weight="bold" text-anchor="middle" fill="#111">0.4</text>
<line x1="444.5" y1="472.3" x2="444.5" y2="474.7" stroke="#222" stroke-width="0.9"/>
<text x="444.82" y="481.1" font-size="5.7" font-weight="bold" text-anchor="middle" fill="#111">0.2</text>
<line x1="463.5" y1="472.3" x2="463.5" y2="474.7" stroke="#222" stroke-width="0.9"/>
<text x="463.1" y="481.1" font-size="5.7" font-weight="bold" text-anchor="middle" fill="#111">0.1</text>
<line x1="481.5" y1="472.3" x2="481.5" y2="474.7" stroke="#222" stroke-width="0.9"/>
<text x="481.38" y="481.1" font-size="5.7" font-weight="bold" text-anchor="middle" fill="#111">0.05</text>
<line x1="499.5" y1="472.3" x2="499.5" y2="474.7" stroke="#222" stroke-width="0.9"/>
<text x="499.66" y="481.1" font-size="5.7" font-weight="bold" text-anchor="middle" fill="#111">0</text>
<text x="463.1" y="491.1" font-size="6.5" font-weight="bold" text-anchor="middle" fill="#111">Oil v/v%</text>
<rect x="516.9" y="235.2" width="7.3" height="237.1" fill="url(#vg)"/>
<path d="M516.9 235.2H524.2V472.3H516.9" fill="none" stroke="#222" stroke-width="0.8"/>
<line x1="516.9" y1="235.2" x2="516.9" y2="472.3" stroke="#888" stroke-width="0.6"/>
<line x1="516.9" y1="297.6" x2="518.2" y2="297.6" stroke="#111" stroke-width="0.7"/>
<line x1="522.9" y1="297.6" x2="524.2" y2="297.6" stroke="#111" stroke-width="0.7"/>
<text x="527" y="300" font-size="6.6" fill="#2a2a2a">3.0</text>
<line x1="516.9" y1="366.8" x2="518.2" y2="366.8" stroke="#111" stroke-width="0.7"/>
<line x1="522.9" y1="366.8" x2="524.2" y2="366.8" stroke="#111" stroke-width="0.7"/>
<text x="527" y="369.2" font-size="6.6" fill="#2a2a2a">2.5</text>
<line x1="516.9" y1="436.1" x2="518.2" y2="436.1" stroke="#111" stroke-width="0.7"/>
<line x1="522.9" y1="436.1" x2="524.2" y2="436.1" stroke="#111" stroke-width="0.7"/>
<text x="527" y="438.5" font-size="6.6" fill="#2a2a2a">2.0</text>
<rect x="567.3" y="235.2" width="19.3" height="19.24" fill="#440154"/>
<rect x="585.6" y="235.2" width="19.3" height="19.24" fill="#440154"/>
<rect x="603.9" y="235.2" width="19.3" height="19.24" fill="#440154"/>
<rect x="622.2" y="235.2" width="19.3" height="19.24" fill="#440154"/>
<rect x="640.5" y="235.2" width="18.3" height="19.24" fill="#440154"/>
<rect x="567.3" y="253.44" width="19.3" height="19.24" fill="#440154"/>
<rect x="585.6" y="253.44" width="19.3" height="19.24" fill="#440154"/>
<rect x="603.9" y="253.44" width="19.3" height="19.24" fill="#440154"/>
<rect x="622.2" y="253.44" width="19.3" height="19.24" fill="#481a6c"/>
<rect x="640.5" y="253.44" width="18.3" height="19.24" fill="#440154"/>
<rect x="567.3" y="271.68" width="19.3" height="19.24" fill="#21918c"/>
<rect x="585.6" y="271.68" width="19.3" height="19.24" fill="#1f9f88"/>
<rect x="603.9" y="271.68" width="19.3" height="19.24" fill="#472e7c"/>
<rect x="622.2" y="271.68" width="19.3" height="19.24" fill="#440154"/>
<rect x="640.5" y="271.68" width="18.3" height="19.24" fill="#440154"/>
<rect x="567.3" y="289.92" width="19.3" height="19.24" fill="#463480"/>
<rect x="585.6" y="289.92" width="19.3" height="19.24" fill="#2f6c8e"/>
<rect x="603.9" y="289.92" width="19.3" height="19.24" fill="#463480"/>
<rect x="622.2" y="289.92" width="19.3" height="19.24" fill="#440154"/>
<rect x="640.5" y="289.92" width="18.3" height="19.24" fill="#440154"/>
<rect x="567.3" y="308.15" width="19.3" height="19.24" fill="#482475"/>
<rect x="585.6" y="308.15" width="19.3" height="19.24" fill="#440154"/>
<rect x="603.9" y="308.15" width="19.3" height="19.24" fill="#440154"/>
<rect x="622.2" y="308.15" width="19.3" height="19.24" fill="#481d6f"/>
<rect x="640.5" y="308.15" width="18.3" height="19.24" fill="#440154"/>
<rect x="567.3" y="326.39" width="19.3" height="19.24" fill="#440154"/>
<rect x="585.6" y="326.39" width="19.3" height="19.24" fill="#440154"/>
<rect x="603.9" y="326.39" width="19.3" height="19.24" fill="#440154"/>
<rect x="622.2" y="326.39" width="19.3" height="19.24" fill="#440154"/>
<rect x="640.5" y="326.39" width="18.3" height="19.24" fill="#440154"/>
<rect x="567.3" y="344.63" width="19.3" height="19.24" fill="#440154"/>
<rect x="585.6" y="344.63" width="19.3" height="19.24" fill="#440154"/>
<rect x="603.9" y="344.63" width="19.3" height="19.24" fill="#440154"/>
<rect x="622.2" y="344.63" width="19.3" height="19.24" fill="#440154"/>
<rect x="640.5" y="344.63" width="18.3" height="19.24" fill="#440154"/>
<rect x="567.3" y="362.87" width="19.3" height="19.24" fill="#440154"/>
<rect x="585.6" y="362.87" width="19.3" height="19.24" fill="#440154"/>
<rect x="603.9" y="362.87" width="19.3" height="19.24" fill="#440154"/>
<rect x="622.2" y="362.87" width="19.3" height="19.24" fill="#440154"/>
<rect x="640.5" y="362.87" width="18.3" height="19.24" fill="#440154"/>
<rect x="567.3" y="381.11" width="19.3" height="19.24" fill="#440154"/>
<rect x="585.6" y="381.11" width="19.3" height="19.24" fill="#440154"/>
<rect x="603.9" y="381.11" width="19.3" height="19.24" fill="#440154"/>
<rect x="622.2" y="381.11" width="19.3" height="19.24" fill="#21918c"/>
<rect x="640.5" y="381.11" width="18.3" height="19.24" fill="#440154"/>
<rect x="567.3" y="399.35" width="19.3" height="19.24" fill="#3e4c8a"/>
<rect x="585.6" y="399.35" width="19.3" height="19.24" fill="#440154"/>
<rect x="603.9" y="399.35" width="19.3" height="19.24" fill="#482475"/>
<rect x="622.2" y="399.35" width="19.3" height="19.24" fill="#440154"/>
<rect x="640.5" y="399.35" width="18.3" height="19.24" fill="#440154"/>
<rect x="567.3" y="417.58" width="19.3" height="19.24" fill="#23898e"/>
<rect x="585.6" y="417.58" width="19.3" height="19.24" fill="#20a386"/>
<rect x="603.9" y="417.58" width="19.3" height="19.24" fill="#fde725"/>
<rect x="622.2" y="417.58" width="19.3" height="19.24" fill="#fde725"/>
<rect x="640.5" y="417.58" width="18.3" height="19.24" fill="#440154"/>
<rect x="567.3" y="435.82" width="19.3" height="19.24" fill="#440154"/>
<rect x="585.6" y="435.82" width="19.3" height="19.24" fill="#440154"/>
<rect x="603.9" y="435.82" width="19.3" height="19.24" fill="#440154"/>
<rect x="622.2" y="435.82" width="19.3" height="19.24" fill="#440154"/>
<rect x="640.5" y="435.82" width="18.3" height="19.24" fill="#440154"/>
<rect x="567.3" y="454.06" width="19.3" height="18.24" fill="#440154"/>
<rect x="585.6" y="454.06" width="19.3" height="18.24" fill="#440154"/>
<rect x="603.9" y="454.06" width="19.3" height="18.24" fill="#440154"/>
<rect x="622.2" y="454.06" width="19.3" height="18.24" fill="#440154"/>
<rect x="640.5" y="454.06" width="18.3" height="18.24" fill="#440154"/>
<rect x="567.7" y="235.6" width="90.7" height="236.3" fill="none" stroke="#111" stroke-width="0.8"/>
<line x1="576.5" y1="472.3" x2="576.5" y2="474.7" stroke="#222" stroke-width="0.9"/>
<text x="576.45" y="481.1" font-size="5.7" font-weight="bold" text-anchor="middle" fill="#111">0.4</text>
<line x1="594.5" y1="472.3" x2="594.5" y2="474.7" stroke="#222" stroke-width="0.9"/>
<text x="594.75" y="481.1" font-size="5.7" font-weight="bold" text-anchor="middle" fill="#111">0.2</text>
<line x1="613.5" y1="472.3" x2="613.5" y2="474.7" stroke="#222" stroke-width="0.9"/>
<text x="613.05" y="481.1" font-size="5.7" font-weight="bold" text-anchor="middle" fill="#111">0.1</text>
<line x1="631.5" y1="472.3" x2="631.5" y2="474.7" stroke="#222" stroke-width="0.9"/>
<text x="631.35" y="481.1" font-size="5.7" font-weight="bold" text-anchor="middle" fill="#111">0.05</text>
<line x1="649.5" y1="472.3" x2="649.5" y2="474.7" stroke="#222" stroke-width="0.9"/>
<text x="649.65" y="481.1" font-size="5.7" font-weight="bold" text-anchor="middle" fill="#111">0</text>
<text x="613.05" y="491.1" font-size="6.5" font-weight="bold" text-anchor="middle" fill="#111">Oil v/v%</text>
<rect x="666.8" y="235.2" width="7.2" height="237.1" fill="url(#vg)"/>
<path d="M666.8 235.2H674V472.3H666.8" fill="none" stroke="#222" stroke-width="0.8"/>
<line x1="666.8" y1="235.2" x2="666.8" y2="472.3" stroke="#888" stroke-width="0.6"/>
<line x1="666.8" y1="258.5" x2="668.1" y2="258.5" stroke="#111" stroke-width="0.7"/>
<line x1="672.7" y1="258.5" x2="674" y2="258.5" stroke="#111" stroke-width="0.7"/>
<text x="676.8" y="260.9" font-size="6.6" fill="#2a2a2a">2.0</text>
<line x1="666.8" y1="323.9" x2="668.1" y2="323.9" stroke="#111" stroke-width="0.7"/>
<line x1="672.7" y1="323.9" x2="674" y2="323.9" stroke="#111" stroke-width="0.7"/>
<text x="676.8" y="326.3" font-size="6.6" fill="#2a2a2a">1.5</text>
<line x1="666.8" y1="389.6" x2="668.1" y2="389.6" stroke="#111" stroke-width="0.7"/>
<line x1="672.7" y1="389.6" x2="674" y2="389.6" stroke="#111" stroke-width="0.7"/>
<text x="676.8" y="392" font-size="6.6" fill="#2a2a2a">1.0</text>
<line x1="666.8" y1="455.3" x2="668.1" y2="455.3" stroke="#111" stroke-width="0.7"/>
<line x1="672.7" y1="455.3" x2="674" y2="455.3" stroke="#111" stroke-width="0.7"/>
<text x="676.8" y="457.7" font-size="6.6" fill="#2a2a2a">0.5</text>
<text x="2" y="511.3" font-size="23" font-weight="bold" fill="#000">c</text>
<rect x="118.4" y="502.9" width="19.25" height="19.24" fill="#6ece58"/>
<rect x="136.65" y="502.9" width="19.25" height="19.24" fill="#31678e"/>
<rect x="154.9" y="502.9" width="19.25" height="19.24" fill="#463480"/>
<rect x="173.15" y="502.9" width="18.25" height="19.24" fill="#460b5e"/>
<rect x="118.4" y="521.14" width="19.25" height="19.24" fill="#3c4f8a"/>
<rect x="136.65" y="521.14" width="19.25" height="19.24" fill="#3c4f8a"/>
<rect x="154.9" y="521.14" width="19.25" height="19.24" fill="#2f6c8e"/>
<rect x="173.15" y="521.14" width="18.25" height="19.24" fill="#460b5e"/>
<rect x="118.4" y="539.38" width="19.25" height="19.24" fill="#218e8d"/>
<rect x="136.65" y="539.38" width="19.25" height="19.24" fill="#25848e"/>
<rect x="154.9" y="539.38" width="19.25" height="19.24" fill="#2f6c8e"/>
<rect x="173.15" y="539.38" width="18.25" height="19.24" fill="#460b5e"/>
<rect x="118.4" y="557.62" width="19.25" height="19.24" fill="#1f958b"/>
<rect x="136.65" y="557.62" width="19.25" height="19.24" fill="#69cd5b"/>
<rect x="154.9" y="557.62" width="19.25" height="19.24" fill="#69cd5b"/>
<rect x="173.15" y="557.62" width="18.25" height="19.24" fill="#460b5e"/>
<rect x="118.4" y="575.86" width="19.25" height="19.24" fill="#21918c"/>
<rect x="136.65" y="575.86" width="19.25" height="19.24" fill="#37b878"/>
<rect x="154.9" y="575.86" width="19.25" height="19.24" fill="#21a685"/>
<rect x="173.15" y="575.86" width="18.25" height="19.24" fill="#460b5e"/>
<rect x="118.4" y="594.1" width="19.25" height="19.24" fill="#27808e"/>
<rect x="136.65" y="594.1" width="19.25" height="19.24" fill="#21918c"/>
<rect x="154.9" y="594.1" width="19.25" height="19.24" fill="#3b528b"/>
<rect x="173.15" y="594.1" width="18.25" height="19.24" fill="#460b5e"/>
<rect x="118.4" y="612.34" width="19.25" height="19.24" fill="#b0dd2f"/>
<rect x="136.65" y="612.34" width="19.25" height="19.24" fill="#ece51b"/>
<rect x="154.9" y="612.34" width="19.25" height="19.24" fill="#fde725"/>
<rect x="173.15" y="612.34" width="18.25" height="19.24" fill="#460b5e"/>
<rect x="118.4" y="630.58" width="19.25" height="19.24" fill="#287d8e"/>
<rect x="136.65" y="630.58" width="19.25" height="19.24" fill="#21918c"/>
<rect x="154.9" y="630.58" width="19.25" height="19.24" fill="#2d718e"/>
<rect x="173.15" y="630.58" width="18.25" height="19.24" fill="#460b5e"/>
<rect x="118.4" y="648.82" width="19.25" height="19.24" fill="#3bbb75"/>
<rect x="136.65" y="648.82" width="19.25" height="19.24" fill="#3bbb75"/>
<rect x="154.9" y="648.82" width="19.25" height="19.24" fill="#29af7f"/>
<rect x="173.15" y="648.82" width="18.25" height="19.24" fill="#460b5e"/>
<rect x="118.4" y="667.06" width="19.25" height="18.24" fill="#3b528b"/>
<rect x="136.65" y="667.06" width="19.25" height="18.24" fill="#482475"/>
<rect x="154.9" y="667.06" width="19.25" height="18.24" fill="#440154"/>
<rect x="173.15" y="667.06" width="18.25" height="18.24" fill="#460b5e"/>
<rect x="118.8" y="503.3" width="72.2" height="181.6" fill="none" stroke="#111" stroke-width="0.8"/>
<line x1="115.8" y1="512.5" x2="118.4" y2="512.5" stroke="#111" stroke-width="1"/>
<text x="115.2" y="514.92" font-size="6.8" font-weight="bold" text-anchor="end" fill="#111">shark squalene SE</text>
<line x1="115.8" y1="530.5" x2="118.4" y2="530.5" stroke="#111" stroke-width="1"/>
<text x="115.2" y="533.16" font-size="6.8" font-weight="bold" text-anchor="end" fill="#111">long-chain triglyceride SE</text>
<line x1="115.8" y1="548.5" x2="118.4" y2="548.5" stroke="#111" stroke-width="1"/>
<text x="115.2" y="551.4" font-size="6.8" font-weight="bold" text-anchor="end" fill="#111">squalene/long-chain triglyceride SE</text>
<line x1="115.8" y1="566.5" x2="118.4" y2="566.5" stroke="#111" stroke-width="1"/>
<text x="115.2" y="569.64" font-size="6.8" font-weight="bold" text-anchor="end" fill="#111">ether 2 SE</text>
<line x1="115.8" y1="584.5" x2="118.4" y2="584.5" stroke="#111" stroke-width="1"/>
<text x="115.2" y="587.88" font-size="6.8" font-weight="bold" text-anchor="end" fill="#111">ether 3 SE</text>
<line x1="115.8" y1="603.5" x2="118.4" y2="603.5" stroke="#111" stroke-width="1"/>
<text x="115.2" y="606.12" font-size="6.8" font-weight="bold" text-anchor="end" fill="#111">ether 4 SE</text>
<line x1="115.8" y1="621.5" x2="118.4" y2="621.5" stroke="#111" stroke-width="1"/>
<text x="115.2" y="624.36" font-size="6.8" font-weight="bold" text-anchor="end" fill="#111">ether 5 SE</text>
<line x1="115.8" y1="639.5" x2="118.4" y2="639.5" stroke="#111" stroke-width="1"/>
<text x="115.2" y="642.6" font-size="6.8" font-weight="bold" text-anchor="end" fill="#111">ether 6/long-chain triglyceride SE</text>
<line x1="115.8" y1="657.5" x2="118.4" y2="657.5" stroke="#111" stroke-width="1"/>
<text x="115.2" y="660.84" font-size="6.8" font-weight="bold" text-anchor="end" fill="#111">alcohols A SE</text>
<line x1="115.8" y1="676.5" x2="118.4" y2="676.5" stroke="#111" stroke-width="1"/>
<text x="115.2" y="679.08" font-size="6.8" font-weight="bold" text-anchor="end" fill="#111">alcohols C SE</text>
<line x1="127.5" y1="685.3" x2="127.5" y2="687.7" stroke="#222" stroke-width="0.9"/>
<text x="127.53" y="693.6" font-size="5.7" font-weight="bold" text-anchor="middle" fill="#111">0.4</text>
<line x1="145.5" y1="685.3" x2="145.5" y2="687.7" stroke="#222" stroke-width="0.9"/>
<text x="145.78" y="693.6" font-size="5.7" font-weight="bold" text-anchor="middle" fill="#111">0.2</text>
<line x1="164.5" y1="685.3" x2="164.5" y2="687.7" stroke="#222" stroke-width="0.9"/>
<text x="164.03" y="693.6" font-size="5.7" font-weight="bold" text-anchor="middle" fill="#111">0.1</text>
<line x1="182.5" y1="685.3" x2="182.5" y2="687.7" stroke="#222" stroke-width="0.9"/>
<text x="182.28" y="693.6" font-size="5.7" font-weight="bold" text-anchor="middle" fill="#111">0</text>
<text x="154.9" y="703.2" font-size="6.5" font-weight="bold" text-anchor="middle" fill="#111">Oil v/v%</text>
<rect x="199.8" y="502.9" width="6.8" height="182.4" fill="url(#vg)"/>
<path d="M199.8 502.9H206.6V685.3H199.8" fill="none" stroke="#222" stroke-width="0.8"/>
<line x1="199.8" y1="502.9" x2="199.8" y2="685.3" stroke="#888" stroke-width="0.6"/>
<line x1="199.8" y1="517.4" x2="201.1" y2="517.4" stroke="#111" stroke-width="0.7"/>
<line x1="205.3" y1="517.4" x2="206.6" y2="517.4" stroke="#111" stroke-width="0.7"/>
<text x="209.4" y="519.8" font-size="6.6" fill="#2a2a2a">3.5</text>
<line x1="199.8" y1="563.7" x2="201.1" y2="563.7" stroke="#111" stroke-width="0.7"/>
<line x1="205.3" y1="563.7" x2="206.6" y2="563.7" stroke="#111" stroke-width="0.7"/>
<text x="209.4" y="566.1" font-size="6.6" fill="#2a2a2a">3.0</text>
<line x1="199.8" y1="609.7" x2="201.1" y2="609.7" stroke="#111" stroke-width="0.7"/>
<line x1="205.3" y1="609.7" x2="206.6" y2="609.7" stroke="#111" stroke-width="0.7"/>
<text x="209.4" y="612.1" font-size="6.6" fill="#2a2a2a">2.5</text>
<line x1="199.8" y1="655.7" x2="201.1" y2="655.7" stroke="#111" stroke-width="0.7"/>
<line x1="205.3" y1="655.7" x2="206.6" y2="655.7" stroke="#111" stroke-width="0.7"/>
<text x="209.4" y="658.1" font-size="6.6" fill="#2a2a2a">2.0</text>
<rect x="267.9" y="502.9" width="19.2" height="19.24" fill="#f8e621"/>
<rect x="286.1" y="502.9" width="19.2" height="19.24" fill="#3fbc73"/>
<rect x="304.3" y="502.9" width="19.2" height="19.24" fill="#375a8c"/>
<rect x="322.5" y="502.9" width="18.2" height="19.24" fill="#440154"/>
<rect x="267.9" y="521.14" width="19.2" height="19.24" fill="#472e7c"/>
<rect x="286.1" y="521.14" width="19.2" height="19.24" fill="#3e4c8a"/>
<rect x="304.3" y="521.14" width="19.2" height="19.24" fill="#3e4c8a"/>
<rect x="322.5" y="521.14" width="18.2" height="19.24" fill="#440154"/>
<rect x="267.9" y="539.38" width="19.2" height="19.24" fill="#4ec36b"/>
<rect x="286.1" y="539.38" width="19.2" height="19.24" fill="#29af7f"/>
<rect x="304.3" y="539.38" width="19.2" height="19.24" fill="#21918c"/>
<rect x="322.5" y="539.38" width="18.2" height="19.24" fill="#440154"/>
<rect x="267.9" y="557.62" width="19.2" height="19.24" fill="#22a884"/>
<rect x="286.1" y="557.62" width="19.2" height="19.24" fill="#6ece58"/>
<rect x="304.3" y="557.62" width="19.2" height="19.24" fill="#58c765"/>
<rect x="322.5" y="557.62" width="18.2" height="19.24" fill="#440154"/>
<rect x="267.9" y="575.86" width="19.2" height="19.24" fill="#7ad151"/>
<rect x="286.1" y="575.86" width="19.2" height="19.24" fill="#a8db34"/>
<rect x="304.3" y="575.86" width="19.2" height="19.24" fill="#6ece58"/>
<rect x="322.5" y="575.86" width="18.2" height="19.24" fill="#440154"/>
<rect x="267.9" y="594.1" width="19.2" height="19.24" fill="#2fb47c"/>
<rect x="286.1" y="594.1" width="19.2" height="19.24" fill="#69cd5b"/>
<rect x="304.3" y="594.1" width="19.2" height="19.24" fill="#27808e"/>
<rect x="322.5" y="594.1" width="18.2" height="19.24" fill="#440154"/>
<rect x="267.9" y="612.34" width="19.2" height="19.24" fill="#d2e21b"/>
<rect x="286.1" y="612.34" width="19.2" height="19.24" fill="#e5e419"/>
<rect x="304.3" y="612.34" width="19.2" height="19.24" fill="#ece51b"/>
<rect x="322.5" y="612.34" width="18.2" height="19.24" fill="#440154"/>
<rect x="267.9" y="630.58" width="19.2" height="19.24" fill="#2a788e"/>
<rect x="286.1" y="630.58" width="19.2" height="19.24" fill="#25848e"/>
<rect x="304.3" y="630.58" width="19.2" height="19.24" fill="#355f8d"/>
<rect x="322.5" y="630.58" width="18.2" height="19.24" fill="#440154"/>
<rect x="267.9" y="648.82" width="19.2" height="19.24" fill="#cae11f"/>
<rect x="286.1" y="648.82" width="19.2" height="19.24" fill="#9bd93c"/>
<rect x="304.3" y="648.82" width="19.2" height="19.24" fill="#6ece58"/>
<rect x="322.5" y="648.82" width="18.2" height="19.24" fill="#440154"/>
<rect x="267.9" y="667.06" width="19.2" height="18.24" fill="#443a83"/>
<rect x="286.1" y="667.06" width="19.2" height="18.24" fill="#463480"/>
<rect x="304.3" y="667.06" width="19.2" height="18.24" fill="#481d6f"/>
<rect x="322.5" y="667.06" width="18.2" height="18.24" fill="#440154"/>
<rect x="268.3" y="503.3" width="72" height="181.6" fill="none" stroke="#111" stroke-width="0.8"/>
<line x1="276.5" y1="685.3" x2="276.5" y2="687.7" stroke="#222" stroke-width="0.9"/>
<text x="277" y="693.6" font-size="5.7" font-weight="bold" text-anchor="middle" fill="#111">0.4</text>
<line x1="295.5" y1="685.3" x2="295.5" y2="687.7" stroke="#222" stroke-width="0.9"/>
<text x="295.2" y="693.6" font-size="5.7" font-weight="bold" text-anchor="middle" fill="#111">0.2</text>
<line x1="313.5" y1="685.3" x2="313.5" y2="687.7" stroke="#222" stroke-width="0.9"/>
<text x="313.4" y="693.6" font-size="5.7" font-weight="bold" text-anchor="middle" fill="#111">0.1</text>
<line x1="331.5" y1="685.3" x2="331.5" y2="687.7" stroke="#222" stroke-width="0.9"/>
<text x="331.6" y="693.6" font-size="5.7" font-weight="bold" text-anchor="middle" fill="#111">0</text>
<text x="304.3" y="703.2" font-size="6.5" font-weight="bold" text-anchor="middle" fill="#111">Oil v/v%</text>
<rect x="349" y="502.9" width="7.6" height="182.4" fill="url(#vg)"/>
<path d="M349 502.9H356.6V685.3H349" fill="none" stroke="#222" stroke-width="0.8"/>
<line x1="349" y1="502.9" x2="349" y2="685.3" stroke="#888" stroke-width="0.6"/>
<line x1="349" y1="558.2" x2="350.3" y2="558.2" stroke="#111" stroke-width="0.7"/>
<line x1="355.3" y1="558.2" x2="356.6" y2="558.2" stroke="#111" stroke-width="0.7"/>
<text x="359.4" y="560.6" font-size="6.6" fill="#2a2a2a">4.0</text>
<line x1="349" y1="613.6" x2="350.3" y2="613.6" stroke="#111" stroke-width="0.7"/>
<line x1="355.3" y1="613.6" x2="356.6" y2="613.6" stroke="#111" stroke-width="0.7"/>
<text x="359.4" y="616" font-size="6.6" fill="#2a2a2a">3.5</text>
<line x1="349" y1="668.7" x2="350.3" y2="668.7" stroke="#111" stroke-width="0.7"/>
<line x1="355.3" y1="668.7" x2="356.6" y2="668.7" stroke="#111" stroke-width="0.7"/>
<text x="359.4" y="671.1" font-size="6.6" fill="#2a2a2a">3.0</text>
<rect x="417.4" y="502.9" width="19.33" height="19.24" fill="#86d549"/>
<rect x="435.72" y="502.9" width="19.33" height="19.24" fill="#2a788e"/>
<rect x="454.05" y="502.9" width="19.33" height="19.24" fill="#3b528b"/>
<rect x="472.38" y="502.9" width="18.33" height="19.24" fill="#472e7c"/>
<rect x="417.4" y="521.14" width="19.33" height="19.24" fill="#3e4c8a"/>
<rect x="435.72" y="521.14" width="19.33" height="19.24" fill="#38588c"/>
<rect x="454.05" y="521.14" width="19.33" height="19.24" fill="#2f6c8e"/>
<rect x="472.38" y="521.14" width="18.33" height="19.24" fill="#472e7c"/>
<rect x="417.4" y="539.38" width="19.33" height="19.24" fill="#20a386"/>
<rect x="435.72" y="539.38" width="19.33" height="19.24" fill="#23898e"/>
<rect x="454.05" y="539.38" width="19.33" height="19.24" fill="#24868e"/>
<rect x="472.38" y="539.38" width="18.33" height="19.24" fill="#472e7c"/>
<rect x="417.4" y="557.62" width="19.33" height="19.24" fill="#2c738e"/>
<rect x="435.72" y="557.62" width="19.33" height="19.24" fill="#25848e"/>
<rect x="454.05" y="557.62" width="19.33" height="19.24" fill="#25848e"/>
<rect x="472.38" y="557.62" width="18.33" height="19.24" fill="#472e7c"/>
<rect x="417.4" y="575.86" width="19.33" height="19.24" fill="#2cb17e"/>
<rect x="435.72" y="575.86" width="19.33" height="19.24" fill="#44bf70"/>
<rect x="454.05" y="575.86" width="19.33" height="19.24" fill="#26ad81"/>
<rect x="472.38" y="575.86" width="18.33" height="19.24" fill="#472e7c"/>
<rect x="417.4" y="594.1" width="19.33" height="19.24" fill="#1e9c89"/>
<rect x="435.72" y="594.1" width="19.33" height="19.24" fill="#1f9f88"/>
<rect x="454.05" y="594.1" width="19.33" height="19.24" fill="#2a788e"/>
<rect x="472.38" y="594.1" width="18.33" height="19.24" fill="#472e7c"/>
<rect x="417.4" y="612.34" width="19.33" height="19.24" fill="#dfe318"/>
<rect x="435.72" y="612.34" width="19.33" height="19.24" fill="#ece51b"/>
<rect x="454.05" y="612.34" width="19.33" height="19.24" fill="#f8e621"/>
<rect x="472.38" y="612.34" width="18.33" height="19.24" fill="#472e7c"/>
<rect x="417.4" y="630.58" width="19.33" height="19.24" fill="#472e7c"/>
<rect x="435.72" y="630.58" width="19.33" height="19.24" fill="#481d6f"/>
<rect x="454.05" y="630.58" width="19.33" height="19.24" fill="#440154"/>
<rect x="472.38" y="630.58" width="18.33" height="19.24" fill="#472e7c"/>
<rect x="417.4" y="648.82" width="19.33" height="19.24" fill="#24868e"/>
<rect x="435.72" y="648.82" width="19.33" height="19.24" fill="#20928c"/>
<rect x="454.05" y="648.82" width="19.33" height="19.24" fill="#20928c"/>
<rect x="472.38" y="648.82" width="18.33" height="19.24" fill="#472e7c"/>
<rect x="417.4" y="667.06" width="19.33" height="18.24" fill="#463480"/>
<rect x="435.72" y="667.06" width="19.33" height="18.24" fill="#481d6f"/>
<rect x="454.05" y="667.06" width="19.33" height="18.24" fill="#472e7c"/>
<rect x="472.38" y="667.06" width="18.33" height="18.24" fill="#472e7c"/>
<rect x="417.8" y="503.3" width="72.5" height="181.6" fill="none" stroke="#111" stroke-width="0.8"/>
<line x1="426.5" y1="685.3" x2="426.5" y2="687.7" stroke="#222" stroke-width="0.9"/>
<text x="426.56" y="693.6" font-size="5.7" font-weight="bold" text-anchor="middle" fill="#111">0.4</text>
<line x1="444.5" y1="685.3" x2="444.5" y2="687.7" stroke="#222" stroke-width="0.9"/>
<text x="444.89" y="693.6" font-size="5.7" font-weight="bold" text-anchor="middle" fill="#111">0.2</text>
<line x1="463.5" y1="685.3" x2="463.5" y2="687.7" stroke="#222" stroke-width="0.9"/>
<text x="463.21" y="693.6" font-size="5.7" font-weight="bold" text-anchor="middle" fill="#111">0.1</text>
<line x1="481.5" y1="685.3" x2="481.5" y2="687.7" stroke="#222" stroke-width="0.9"/>
<text x="481.54" y="693.6" font-size="5.7" font-weight="bold" text-anchor="middle" fill="#111">0</text>
<text x="454.05" y="703.2" font-size="6.5" font-weight="bold" text-anchor="middle" fill="#111">Oil v/v%</text>
<rect x="498.7" y="502.9" width="7.3" height="182.4" fill="url(#vg)"/>
<path d="M498.7 502.9H506V685.3H498.7" fill="none" stroke="#222" stroke-width="0.8"/>
<line x1="498.7" y1="502.9" x2="498.7" y2="685.3" stroke="#888" stroke-width="0.6"/>
<line x1="498.7" y1="569.5" x2="500" y2="569.5" stroke="#111" stroke-width="0.7"/>
<line x1="504.7" y1="569.5" x2="506" y2="569.5" stroke="#111" stroke-width="0.7"/>
<text x="508.8" y="571.9" font-size="6.6" fill="#2a2a2a">3.0</text>
<line x1="498.7" y1="654.6" x2="500" y2="654.6" stroke="#111" stroke-width="0.7"/>
<line x1="504.7" y1="654.6" x2="506" y2="654.6" stroke="#111" stroke-width="0.7"/>
<text x="508.8" y="657" font-size="6.6" fill="#2a2a2a">2.5</text>
<rect x="567.4" y="502.9" width="19.33" height="19.24" fill="#21918c"/>
<rect x="585.73" y="502.9" width="19.33" height="19.24" fill="#433e85"/>
<rect x="604.05" y="502.9" width="19.33" height="19.24" fill="#453781"/>
<rect x="622.38" y="502.9" width="18.33" height="19.24" fill="#443a83"/>
<rect x="567.4" y="521.14" width="19.33" height="19.24" fill="#31678e"/>
<rect x="585.73" y="521.14" width="19.33" height="19.24" fill="#3a548c"/>
<rect x="604.05" y="521.14" width="19.33" height="19.24" fill="#38588c"/>
<rect x="622.38" y="521.14" width="18.33" height="19.24" fill="#443a83"/>
<rect x="567.4" y="539.38" width="19.33" height="19.24" fill="#21918c"/>
<rect x="585.73" y="539.38" width="19.33" height="19.24" fill="#2a788e"/>
<rect x="604.05" y="539.38" width="19.33" height="19.24" fill="#2e6f8e"/>
<rect x="622.38" y="539.38" width="18.33" height="19.24" fill="#443a83"/>
<rect x="567.4" y="557.62" width="19.33" height="19.24" fill="#38588c"/>
<rect x="585.73" y="557.62" width="19.33" height="19.24" fill="#24868e"/>
<rect x="604.05" y="557.62" width="19.33" height="19.24" fill="#27808e"/>
<rect x="622.38" y="557.62" width="18.33" height="19.24" fill="#443a83"/>
<rect x="567.4" y="575.86" width="19.33" height="19.24" fill="#2e6f8e"/>
<rect x="585.73" y="575.86" width="19.33" height="19.24" fill="#23898e"/>
<rect x="604.05" y="575.86" width="19.33" height="19.24" fill="#27808e"/>
<rect x="622.38" y="575.86" width="18.33" height="19.24" fill="#443a83"/>
<rect x="567.4" y="594.1" width="19.33" height="19.24" fill="#3a548c"/>
<rect x="585.73" y="594.1" width="19.33" height="19.24" fill="#2d718e"/>
<rect x="604.05" y="594.1" width="19.33" height="19.24" fill="#375a8c"/>
<rect x="622.38" y="594.1" width="18.33" height="19.24" fill="#443a83"/>
<rect x="567.4" y="612.34" width="19.33" height="19.24" fill="#dfe318"/>
<rect x="585.73" y="612.34" width="19.33" height="19.24" fill="#ece51b"/>
<rect x="604.05" y="612.34" width="19.33" height="19.24" fill="#fde725"/>
<rect x="622.38" y="612.34" width="18.33" height="19.24" fill="#443a83"/>
<rect x="567.4" y="630.58" width="19.33" height="19.24" fill="#433e85"/>
<rect x="585.73" y="630.58" width="19.33" height="19.24" fill="#33628d"/>
<rect x="604.05" y="630.58" width="19.33" height="19.24" fill="#3b528b"/>
<rect x="622.38" y="630.58" width="18.33" height="19.24" fill="#443a83"/>
<rect x="567.4" y="648.82" width="19.33" height="19.24" fill="#424086"/>
<rect x="585.73" y="648.82" width="19.33" height="19.24" fill="#27808e"/>
<rect x="604.05" y="648.82" width="19.33" height="19.24" fill="#2a788e"/>
<rect x="622.38" y="648.82" width="18.33" height="19.24" fill="#443a83"/>
<rect x="567.4" y="667.06" width="19.33" height="18.24" fill="#440154"/>
<rect x="585.73" y="667.06" width="19.33" height="18.24" fill="#471365"/>
<rect x="604.05" y="667.06" width="19.33" height="18.24" fill="#472e7c"/>
<rect x="622.38" y="667.06" width="18.33" height="18.24" fill="#443a83"/>
<rect x="567.8" y="503.3" width="72.5" height="181.6" fill="none" stroke="#111" stroke-width="0.8"/>
<line x1="576.5" y1="685.3" x2="576.5" y2="687.7" stroke="#222" stroke-width="0.9"/>
<text x="576.56" y="693.6" font-size="5.7" font-weight="bold" text-anchor="middle" fill="#111">0.4</text>
<line x1="594.5" y1="685.3" x2="594.5" y2="687.7" stroke="#222" stroke-width="0.9"/>
<text x="594.89" y="693.6" font-size="5.7" font-weight="bold" text-anchor="middle" fill="#111">0.2</text>
<line x1="613.5" y1="685.3" x2="613.5" y2="687.7" stroke="#222" stroke-width="0.9"/>
<text x="613.21" y="693.6" font-size="5.7" font-weight="bold" text-anchor="middle" fill="#111">0.1</text>
<line x1="631.5" y1="685.3" x2="631.5" y2="687.7" stroke="#222" stroke-width="0.9"/>
<text x="631.54" y="693.6" font-size="5.7" font-weight="bold" text-anchor="middle" fill="#111">0</text>
<text x="604.05" y="703.2" font-size="6.5" font-weight="bold" text-anchor="middle" fill="#111">Oil v/v%</text>
<rect x="648.4" y="502.9" width="7.4" height="182.4" fill="url(#vg)"/>
<path d="M648.4 502.9H655.8V685.3H648.4" fill="none" stroke="#222" stroke-width="0.8"/>
<line x1="648.4" y1="502.9" x2="648.4" y2="685.3" stroke="#888" stroke-width="0.6"/>
<line x1="648.4" y1="525.5" x2="649.7" y2="525.5" stroke="#111" stroke-width="0.7"/>
<line x1="654.5" y1="525.5" x2="655.8" y2="525.5" stroke="#111" stroke-width="0.7"/>
<text x="658.6" y="527.9" font-size="6.6" fill="#2a2a2a">2.5</text>
<line x1="648.4" y1="569.5" x2="649.7" y2="569.5" stroke="#111" stroke-width="0.7"/>
<line x1="654.5" y1="569.5" x2="655.8" y2="569.5" stroke="#111" stroke-width="0.7"/>
<text x="658.6" y="571.9" font-size="6.6" fill="#2a2a2a">2.0</text>
<line x1="648.4" y1="613.6" x2="649.7" y2="613.6" stroke="#111" stroke-width="0.7"/>
<line x1="654.5" y1="613.6" x2="655.8" y2="613.6" stroke="#111" stroke-width="0.7"/>
<text x="658.6" y="616" font-size="6.6" fill="#2a2a2a">1.5</text>
<line x1="648.4" y1="657.9" x2="649.7" y2="657.9" stroke="#111" stroke-width="0.7"/>
<line x1="654.5" y1="657.9" x2="655.8" y2="657.9" stroke="#111" stroke-width="0.7"/>
<text x="658.6" y="660.3" font-size="6.6" fill="#2a2a2a">1.0</text>
</svg></body></html>
